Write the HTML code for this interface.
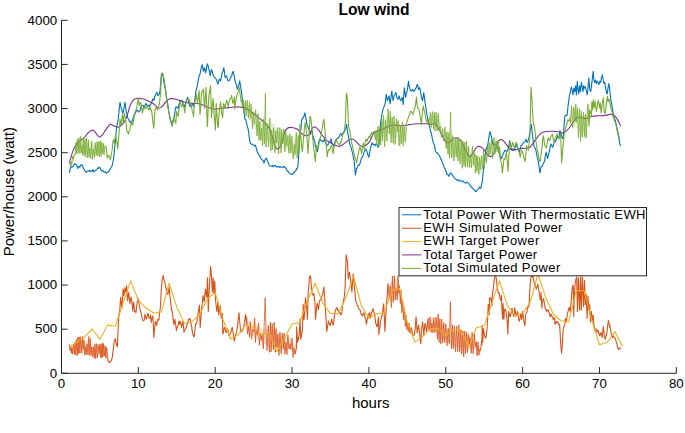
<!DOCTYPE html>
<html><head><meta charset="utf-8"><style>
html,body{margin:0;padding:0;background:#fff;width:685px;height:433px;overflow:hidden}
svg{display:block}
text{font-family:"Liberation Sans",sans-serif;fill:#000}
</style></head><body>
<svg width="685" height="433" viewBox="0 0 685 433">
<rect width="685" height="433" fill="#fff"/>
<path d="M69.30,173.00 L69.85,170.59 L70.40,168.40 L70.90,166.20 L71.90,167.20 L72.45,166.84 L73.00,166.20 L73.75,165.92 L74.50,163.60 L75.05,164.02 L75.60,164.60 L76.60,165.10 L77.15,166.77 L77.70,168.40 L78.70,166.20 L79.70,167.20 L80.25,166.36 L80.80,165.10 L81.80,164.60 L82.60,165.74 L83.40,168.40 L84.10,169.43 L84.80,170.71 L85.50,171.40 L86.25,172.35 L87.00,171.90 L87.84,170.73 L88.68,171.03 L89.52,170.32 L90.36,171.84 L91.20,170.90 L92.02,171.24 L92.84,169.56 L93.66,171.70 L94.48,171.54 L95.30,170.30 L96.08,170.19 L96.85,169.63 L97.62,168.05 L98.40,168.40 L99.20,166.94 L100.00,167.80 L100.80,169.52 L101.60,171.10 L102.40,170.41 L103.20,171.09 L104.00,172.20 L104.67,171.91 L105.33,171.74 L106.00,173.20 L106.70,172.68 L107.40,172.19 L108.10,171.90 L108.90,171.56 L109.70,169.61 L110.50,168.40 L111.35,167.29 L112.20,165.50 L112.85,162.25 L113.50,159.00 L114.05,154.54 L114.60,149.30 L115.40,141.20 L116.20,131.50 L117.00,125.00 L117.55,122.30 L118.10,119.80 L119.05,110.57 L120.00,102.40 L120.80,106.64 L121.60,108.50 L122.25,112.09 L122.90,113.30 L123.57,110.48 L124.23,106.53 L124.90,102.40 L125.55,106.61 L126.20,111.70 L127.00,114.30 L127.80,118.20 L128.60,119.29 L129.40,121.40 L130.20,121.17 L131.00,123.00 L131.80,122.04 L132.60,119.80 L133.40,117.16 L134.20,115.00 L135.05,114.18 L135.90,111.70 L136.70,110.63 L137.50,110.10 L138.30,112.00 L139.10,111.70 L139.90,110.93 L140.70,108.50 L141.50,105.70 L142.30,105.30 L143.15,105.40 L144.00,106.90 L144.80,106.23 L145.60,103.60 L146.40,104.09 L147.20,105.89 L148.00,105.30 L148.80,105.85 L149.60,106.90 L150.30,104.24 L151.00,103.94 L151.70,102.00 L152.25,101.07 L152.80,98.80 L153.40,99.05 L154.00,100.40 L154.65,97.01 L155.30,95.60 L156.10,93.55 L156.90,92.30 L157.70,95.06 L158.50,95.60 L159.30,93.77 L160.10,90.70 L160.75,81.68 L161.40,74.50 L161.95,73.49 L162.50,73.70 L163.35,77.99 L164.20,84.20 L165.00,87.19 L165.80,92.30 L166.60,97.86 L167.40,102.00 L168.20,106.88 L169.00,113.30 L169.80,117.49 L170.60,121.40 L171.40,122.92 L172.20,124.70 L173.05,120.71 L173.90,118.20 L174.70,113.91 L175.50,108.50 L176.05,106.71 L176.60,106.70 L177.40,107.84 L178.20,108.30 L179.00,104.18 L179.80,101.90 L180.65,100.91 L181.50,100.30 L182.30,101.21 L183.10,103.50 L183.90,104.55 L184.70,106.70 L185.50,104.63 L186.30,100.30 L186.95,99.58 L187.60,97.40 L188.15,99.18 L188.70,101.90 L189.55,105.22 L190.40,106.70 L191.20,104.41 L192.00,103.50 L192.80,104.85 L193.60,106.70 L194.40,102.70 L195.20,97.00 L196.00,90.60 L196.80,87.69 L197.60,84.10 L198.40,79.09 L199.20,76.00 L200.05,73.92 L200.90,69.50 L201.55,66.41 L202.20,64.70 L202.75,67.37 L203.30,71.20 L203.85,70.20 L204.40,67.90 L205.05,69.94 L205.70,72.80 L206.50,67.86 L207.30,63.90 L208.10,65.68 L208.90,69.50 L209.55,71.77 L210.20,76.00 L210.80,72.95 L211.40,69.50 L212.20,71.33 L213.00,74.40 L213.80,76.24 L214.60,77.60 L215.40,78.09 L216.20,79.20 L217.00,81.54 L217.80,84.10 L218.40,82.75 L219.00,79.20 L219.80,80.01 L220.60,80.90 L221.40,77.03 L222.20,72.80 L223.00,71.23 L223.80,67.90 L224.45,71.99 L225.10,77.60 L225.90,75.97 L226.70,76.00 L227.50,79.43 L228.30,80.90 L229.15,80.81 L230.00,79.20 L230.80,77.00 L231.60,76.00 L232.40,72.86 L233.20,71.20 L233.85,74.97 L234.50,77.60 L235.05,81.11 L235.60,82.50 L236.40,85.02 L237.20,89.00 L237.80,88.43 L238.40,85.70 L239.05,84.22 L239.70,80.90 L240.50,86.00 L241.30,90.60 L242.10,96.86 L242.90,103.50 L243.85,110.35 L244.80,119.10 L245.65,119.59 L246.50,122.30 L247.30,126.66 L248.10,128.80 L248.65,132.27 L249.20,137.00 L250.20,143.30 L251.10,144.14 L252.00,144.00 L252.75,144.17 L253.50,145.50 L254.45,146.03 L255.40,145.00 L256.20,148.00 L256.95,150.73 L257.70,153.00 L258.35,153.50 L259.00,155.00 L259.75,155.47 L260.50,157.50 L261.40,159.28 L262.30,160.00 L263.15,160.47 L264.00,163.00 L265.00,160.00 L265.70,158.50 L266.40,158.30 L267.20,160.29 L268.00,162.00 L268.90,164.75 L269.80,165.80 L270.65,166.17 L271.50,166.00 L272.30,165.41 L273.10,166.87 L273.90,165.80 L274.60,165.49 L275.30,165.44 L276.00,167.00 L276.93,166.57 L277.85,167.12 L278.77,166.32 L279.70,167.50 L280.47,166.66 L281.23,167.05 L282.00,167.30 L282.77,167.37 L283.53,166.22 L284.30,167.00 L285.15,167.42 L286.00,168.50 L286.67,170.27 L287.33,171.32 L288.00,171.00 L288.87,172.34 L289.73,173.39 L290.60,173.90 L291.50,174.40 L292.40,174.50 L293.20,172.89 L294.00,173.00 L294.90,170.88 L295.80,171.00 L296.40,168.84 L297.00,169.00 L297.55,167.78 L298.10,164.60 L298.70,155.00 L299.30,141.50 L299.90,137.23 L300.50,132.00 L301.05,127.61 L301.60,121.00 L302.40,118.25 L303.20,117.80 L304.05,115.68 L304.90,112.90 L305.50,116.11 L306.10,119.40 L306.70,123.20 L307.30,125.90 L308.10,127.07 L308.90,129.10 L309.70,132.75 L310.50,134.00 L311.30,131.33 L312.10,130.70 L312.70,134.06 L313.30,137.20 L313.95,139.37 L314.60,140.40 L315.40,145.41 L316.20,148.50 L316.85,150.72 L317.50,151.80 L318.05,147.39 L318.60,142.00 L319.15,141.10 L319.70,138.80 L320.50,140.60 L321.30,140.40 L322.15,140.84 L323.00,142.00 L323.80,140.84 L324.60,138.80 L325.40,142.21 L326.20,143.70 L327.00,145.39 L327.80,145.30 L328.60,143.45 L329.40,142.00 L330.25,141.10 L331.10,138.80 L331.70,142.12 L332.30,143.70 L333.15,145.47 L334.00,146.90 L334.80,143.95 L335.60,140.40 L336.40,139.32 L337.20,138.80 L338.00,138.20 L338.80,137.20 L339.60,135.86 L340.40,134.00 L341.20,133.79 L342.00,135.60 L342.85,134.28 L343.70,132.30 L344.50,131.88 L345.30,129.10 L345.95,127.61 L346.60,124.30 L347.15,128.85 L347.70,132.30 L348.50,136.88 L349.30,142.00 L350.10,145.01 L350.90,146.90 L351.75,150.34 L352.60,153.40 L353.40,157.31 L354.20,161.50 L355.00,170.00 L355.50,175.00 L356.40,168.50 L356.95,168.51 L357.50,166.90 L358.35,165.10 L359.20,165.30 L360.00,163.45 L360.80,160.40 L361.60,157.67 L362.40,157.20 L363.20,154.99 L364.00,152.30 L364.80,150.65 L365.60,149.10 L366.40,150.05 L367.20,152.30 L368.05,155.23 L368.90,157.20 L369.70,152.34 L370.50,147.50 L371.30,145.32 L372.10,142.60 L372.90,144.41 L373.70,144.20 L374.35,144.46 L375.00,145.90 L375.75,143.88 L376.50,144.20 L377.30,145.37 L378.10,147.50 L378.90,143.88 L379.70,139.40 L380.50,123.30 L381.30,117.74 L382.10,113.60 L382.90,109.61 L383.70,107.20 L384.55,105.72 L385.40,102.30 L386.20,94.20 L386.85,97.83 L387.50,100.70 L388.30,98.16 L389.10,95.90 L389.65,100.84 L390.20,103.90 L391.00,97.03 L391.80,91.00 L392.45,96.25 L393.10,100.70 L393.65,97.58 L394.20,95.90 L395.05,94.08 L395.90,92.60 L396.70,96.58 L397.50,99.10 L398.30,98.49 L399.10,95.90 L399.90,99.21 L400.70,100.70 L401.50,98.82 L402.30,97.50 L403.10,104.80 L403.70,96.50 L404.30,87.80 L404.95,92.21 L405.60,97.50 L406.40,93.38 L407.20,91.00 L407.85,86.14 L408.50,81.30 L409.05,85.36 L409.60,87.80 L410.40,90.24 L411.20,91.00 L412.00,90.71 L412.80,89.40 L413.65,91.28 L414.50,91.00 L415.30,88.86 L416.10,87.80 L416.75,85.36 L417.40,84.50 L417.95,86.83 L418.50,89.40 L419.15,88.06 L419.80,87.80 L420.60,91.96 L421.40,97.50 L421.95,98.89 L422.50,100.70 L423.15,96.95 L423.80,92.60 L424.40,97.44 L425.00,102.30 L425.65,105.91 L426.30,110.40 L426.85,114.46 L427.40,116.90 L427.95,121.26 L428.50,123.30 L429.20,125.85 L429.90,127.61 L430.60,131.30 L431.40,133.43 L432.20,137.80 L433.05,141.89 L433.90,144.20 L434.70,146.75 L435.50,151.50 L436.45,152.70 L437.40,152.90 L438.20,154.17 L439.00,154.64 L439.80,156.20 L440.63,159.03 L441.47,159.31 L442.30,162.60 L443.10,163.78 L443.90,166.70 L444.70,168.46 L445.50,169.29 L446.30,172.30 L447.10,174.46 L447.90,174.40 L448.70,176.40 L449.53,174.44 L450.37,173.11 L451.20,173.10 L452.00,174.66 L452.80,175.60 L453.60,176.54 L454.40,178.05 L455.20,178.80 L456.00,179.44 L456.80,180.07 L457.60,179.60 L458.43,181.10 L459.25,180.84 L460.07,180.08 L460.90,181.20 L461.70,181.44 L462.50,181.03 L463.30,180.93 L464.10,182.40 L464.90,182.47 L465.70,183.18 L466.50,182.80 L467.30,182.03 L468.10,182.80 L468.95,183.50 L469.80,185.30 L470.60,185.73 L471.40,187.37 L472.20,187.70 L473.00,188.55 L473.80,189.57 L474.60,190.10 L475.40,191.36 L476.20,191.40 L477.00,190.09 L477.80,189.30 L478.65,188.80 L479.50,186.90 L480.30,188.27 L481.10,187.70 L481.65,183.86 L482.20,182.00 L483.20,172.30 L483.75,167.69 L484.30,161.00 L484.85,157.48 L485.40,152.90 L486.05,149.21 L486.70,147.30 L487.50,146.90 L488.35,141.14 L489.20,135.60 L490.00,131.50 L490.80,134.65 L491.60,137.20 L492.40,142.23 L493.20,145.30 L494.00,144.15 L494.80,143.60 L495.60,144.62 L496.40,145.30 L497.20,147.81 L498.00,148.50 L498.85,150.81 L499.70,151.70 L500.00,155.30 L500.80,157.97 L501.60,158.50 L502.40,155.96 L503.20,153.60 L504.00,152.36 L504.80,150.40 L505.65,150.49 L506.50,152.00 L507.30,150.93 L508.10,148.80 L508.90,145.51 L509.70,140.70 L510.50,144.29 L511.30,147.20 L512.10,149.32 L512.90,150.40 L513.70,148.91 L514.50,148.80 L515.35,147.31 L516.20,143.90 L517.00,146.70 L517.80,147.20 L518.60,150.75 L519.40,152.00 L520.20,148.89 L521.00,145.60 L521.80,145.45 L522.60,143.90 L523.40,142.67 L524.20,142.30 L525.05,141.68 L525.90,139.10 L526.70,141.55 L527.50,142.30 L528.30,139.54 L529.10,137.50 L529.75,132.45 L530.40,129.40 L530.95,126.81 L531.50,124.50 L532.30,134.20 L533.10,140.02 L533.90,145.60 L534.75,147.84 L535.60,148.80 L536.40,152.82 L537.20,156.90 L538.00,159.82 L538.80,165.00 L539.45,169.74 L540.10,173.00 L540.65,168.75 L541.20,166.60 L542.00,166.52 L542.80,165.00 L543.65,162.56 L544.50,161.70 L545.30,156.45 L546.10,152.00 L546.90,155.94 L547.70,158.50 L548.50,154.39 L549.30,152.00 L550.10,147.11 L550.90,143.90 L551.70,145.59 L552.50,147.20 L553.35,145.29 L554.20,142.30 L555.00,142.32 L555.80,140.70 L556.60,138.75 L557.40,135.90 L558.20,137.77 L559.00,137.50 L560.00,130.70 L560.80,133.13 L561.60,135.60 L562.40,138.28 L563.20,138.80 L564.00,126.61 L564.80,116.40 L565.60,115.26 L566.40,115.53 L567.20,115.00 L567.80,108.55 L568.40,103.10 L568.95,99.60 L569.50,95.00 L570.30,92.70 L571.20,87.00 L572.20,90.40 L573.00,95.00 L573.80,88.10 L574.70,91.60 L575.60,85.80 L576.40,95.00 L577.30,81.20 L577.90,88.10 L578.80,93.90 L579.60,85.80 L580.50,91.60 L581.40,82.30 L582.20,87.00 L583.00,91.60 L583.70,85.80 L584.50,88.10 L585.30,87.00 L586.30,90.40 L587.20,95.00 L588.00,88.10 L588.80,77.70 L589.70,89.30 L590.70,91.60 L591.50,85.80 L592.30,78.90 L593.20,71.40 L593.80,78.90 L594.60,82.30 L595.50,80.00 L596.40,83.50 L597.20,81.20 L598.00,82.30 L599.00,84.60 L599.90,81.20 L600.70,82.30 L601.50,77.70 L602.40,74.80 L603.10,80.00 L603.80,83.50 L604.70,82.30 L605.70,88.10 L606.50,92.70 L607.30,93.90 L608.00,88.10 L608.80,83.50 L609.40,87.00 L610.30,95.00 L611.10,100.80 L611.90,105.40 L612.80,111.20 L613.40,115.00 L614.20,117.53 L615.00,119.40 L615.80,122.70 L616.60,125.90 L617.40,130.72 L618.20,133.90 L619.00,138.89 L619.80,143.60 L620.60,146.10" fill="none" stroke="#0072BD" stroke-width="1.1" stroke-linejoin="round"/>
<path d="M69.30,344.58 L69.79,345.50 L70.29,346.41 L70.78,347.33 L71.28,347.39 L71.77,347.20 L72.27,347.00 L72.76,346.81 L73.26,346.62 L73.75,346.04 L74.25,345.43 L74.74,344.82 L75.24,344.21 L75.73,343.56 L76.23,342.38 L76.72,341.20 L77.22,340.02 L77.71,339.46 L78.21,339.26 L78.70,339.08 L79.19,338.90 L79.69,338.71 L80.18,338.73 L80.68,338.81 L81.17,338.89 L81.67,339.04 L82.16,339.26 L82.66,339.84 L83.15,340.45 L83.65,341.05 L84.14,341.66 L84.64,342.21 L85.13,341.91 L85.63,341.55 L86.12,341.12 L86.62,340.69 L87.11,340.27 L87.61,340.23 L88.10,340.18 L88.59,340.13 L89.09,340.18 L89.58,340.42 L90.08,341.42 L90.57,342.42 L91.07,343.43 L91.56,344.43 L92.06,345.22 L92.55,345.56 L93.05,345.87 L93.54,346.16 L94.04,346.45 L94.53,346.55 L95.03,346.45 L95.52,346.35 L96.02,346.24 L96.51,346.09 L97.01,346.04 L97.50,346.12 L97.99,346.20 L98.49,346.28 L98.98,346.36 L99.48,346.44 L99.97,346.52 L100.47,346.43 L100.96,346.33 L101.46,346.23 L101.95,346.13 L102.45,346.03 L102.94,345.93 L103.44,346.08 L103.93,346.49 L104.43,346.90 L104.92,347.31 L105.42,347.73 L105.91,348.19 L106.41,348.67 L106.90,349.16 L106.90,355.94 L106.41,355.82 L105.91,355.70 L105.42,355.58 L104.92,355.48 L104.43,355.38 L103.93,355.27 L103.44,355.17 L102.94,355.13 L102.45,355.16 L101.95,355.18 L101.46,355.21 L100.96,355.23 L100.47,355.26 L99.97,355.28 L99.48,355.34 L98.98,355.39 L98.49,355.44 L97.99,355.49 L97.50,355.55 L97.01,355.60 L96.51,355.68 L96.02,355.79 L95.52,355.77 L95.03,355.70 L94.53,355.63 L94.04,355.51 L93.54,355.35 L93.05,355.18 L92.55,354.95 L92.06,354.57 L91.56,354.08 L91.07,353.53 L90.57,352.98 L90.08,352.43 L89.58,351.89 L89.09,351.53 L88.59,351.32 L88.10,351.51 L87.61,351.70 L87.11,351.90 L86.62,352.18 L86.12,352.47 L85.63,352.76 L85.13,352.76 L84.64,352.53 L84.14,352.09 L83.65,351.63 L83.15,351.17 L82.66,350.71 L82.16,350.26 L81.67,349.90 L81.17,349.79 L80.68,349.97 L80.18,350.14 L79.69,350.33 L79.19,350.58 L78.70,350.82 L78.21,351.06 L77.71,351.35 L77.22,351.73 L76.72,352.26 L76.23,352.79 L75.73,353.33 L75.24,353.27 L74.74,353.18 L74.25,353.08 L73.75,352.99 L73.26,352.88 L72.76,352.67 L72.27,352.45 L71.77,352.24 L71.28,352.02 L70.78,351.55 L70.29,350.20 L69.79,348.86 L69.30,347.52Z" fill="#D95319" fill-opacity="0.2" stroke="none"/>
<path d="M69.30,343.79 L70.12,350.91 L70.81,346.00 L71.35,353.29 L71.92,347.91 L72.50,354.23 L73.45,345.00 L74.41,354.28 L75.07,341.74 L75.73,355.31 L76.52,339.47 L77.29,355.46 L77.91,337.04 L78.57,353.70 L79.23,336.84 L79.87,353.05 L80.79,336.75 L81.75,353.39 L82.62,336.49 L83.16,349.22 L83.94,339.76 L84.78,355.09 L85.51,346.42 L86.25,354.98 L87.09,343.75 L87.99,354.83 L88.81,336.45 L89.41,355.35 L90.28,338.51 L90.98,355.41 L91.71,346.94 L92.60,356.83 L93.32,347.01 L94.27,358.38 L94.90,343.84 L95.69,358.55 L96.41,343.63 L97.36,357.67 L98.16,344.39 L99.09,353.19 L99.98,344.28 L100.55,357.30 L101.10,343.70 L101.78,358.12 L102.37,343.19 L102.91,356.91 L103.50,343.57 L104.19,356.26 L105.16,345.59 L105.73,358.07 L106.37,347.44" fill="none" stroke="#D95319" stroke-width="0.8" stroke-linejoin="round"/>
<path d="M106.37,347.44 L106.90,350.00 L107.30,356.60 L107.70,358.48 L108.10,360.60 L108.63,361.29 L109.17,362.77 L109.70,362.20 L110.23,361.58 L110.77,361.15 L111.30,360.60 L111.85,358.83 L112.40,356.60 L112.90,351.73 L113.40,348.50 L114.10,342.00 L114.70,340.43 L115.30,338.80 L115.80,341.49 L116.30,343.50 L116.85,345.86 L117.40,346.70 L117.80,335.94 L118.20,327.30 L118.60,319.79 L119.00,313.30 L119.50,314.40 L120.10,304.74 L120.70,297.20 L121.25,303.66 L121.80,308.50 L122.45,299.30 L123.10,289.10 L123.50,291.16 L123.90,295.60 L124.45,292.80 L125.00,287.50 L125.50,291.11 L126.00,292.30 L126.60,285.90 L127.10,293.55 L127.60,300.40 L128.15,296.65 L128.70,292.30 L129.30,297.06 L129.90,303.60 L130.55,299.14 L131.20,297.20 L131.85,302.12 L132.50,306.90 L132.80,311.20 L133.20,305.45 L133.60,302.00 L134.15,306.04 L134.70,311.70 L135.35,311.58 L136.00,312.80 L136.65,306.18 L137.30,302.00 L137.85,300.31 L138.40,298.80 L139.00,302.70 L139.60,306.90 L140.25,310.19 L140.90,311.70 L141.30,313.90 L141.70,316.00 L142.20,318.20 L142.75,319.91 L143.30,320.90 L143.85,320.35 L144.40,319.80 L144.90,314.40 L145.43,316.42 L145.97,317.49 L146.50,319.20 L147.00,316.60 L147.55,314.37 L148.10,313.30 L148.70,317.04 L149.30,318.20 L149.95,317.89 L150.60,315.00 L151.00,319.63 L151.40,322.50 L151.90,318.20 L152.45,317.64 L153.00,316.00 L153.40,326.42 L153.80,337.80 L154.45,330.25 L155.10,324.10 L155.40,321.40 L156.05,323.00 L156.70,325.70 L157.25,321.33 L157.80,319.20 L158.40,320.19 L159.00,319.80 L159.50,312.80 L159.90,310.39 L160.30,308.50 L160.70,301.30 L161.10,292.30 L161.65,285.55 L162.20,279.40 L162.70,278.59 L163.20,275.40 L163.75,279.10 L164.30,281.00 L164.85,282.15 L165.40,285.90 L166.05,288.35 L166.70,292.30 L167.35,294.22 L168.00,294.00 L168.60,290.67 L169.20,287.50 L169.75,294.40 L170.30,298.80 L170.80,304.70 L171.20,307.13 L171.60,310.10 L172.00,310.34 L172.40,312.80 L172.90,318.20 L173.45,321.79 L174.00,324.70 L174.40,322.67 L174.80,319.20 L175.33,322.40 L175.87,325.73 L176.40,330.60 L177.05,328.01 L177.70,326.30 L178.30,325.06 L178.90,321.40 L179.30,323.42 L179.70,324.10 L180.00,321.00 L180.53,322.17 L181.07,324.67 L181.60,327.50 L182.13,324.43 L182.67,322.29 L183.20,321.40 L183.60,327.62 L184.00,332.30 L184.62,330.06 L185.25,329.65 L185.88,327.96 L186.50,326.70 L187.03,324.13 L187.57,323.77 L188.10,321.40 L188.63,319.37 L189.17,319.64 L189.70,318.20 L190.23,319.37 L190.77,322.33 L191.30,324.70 L191.95,328.60 L192.60,334.00 L193.13,334.20 L193.67,336.82 L194.20,336.40 L194.80,331.49 L195.40,325.00 L195.93,323.29 L196.47,323.60 L197.00,321.40 L197.55,316.60 L198.10,313.30 L198.75,309.03 L199.40,305.30 L199.80,317.32 L200.20,327.50 L200.73,321.00 L201.27,312.73 L201.80,306.90 L202.40,302.52 L203.00,295.60 L203.60,298.05 L204.20,302.00 L204.85,294.92 L205.50,289.10 L206.10,293.86 L206.70,297.20 L207.10,287.06 L207.50,277.80 L207.90,294.22 L208.30,311.70 L208.85,297.69 L209.40,285.90 L210.05,275.13 L210.70,266.50 L211.10,271.57 L211.50,276.20 L211.90,283.58 L212.30,292.30 L212.70,285.31 L213.10,277.80 L213.50,285.57 L213.90,294.00 L214.35,287.38 L214.80,281.00 L215.20,291.89 L215.60,300.40 L216.25,306.01 L216.90,311.70 L217.45,307.04 L218.00,302.00 L218.40,309.45 L218.80,315.00 L219.45,309.33 L220.10,305.30 L220.65,310.85 L221.20,318.20 L221.80,316.81 L222.40,313.30 L222.80,334.00 L223.37,332.66 L223.93,329.02 L224.50,327.50 L225.03,328.29 L225.57,331.32 L226.10,332.30 L226.63,332.38 L227.17,329.38 L227.70,329.10 L228.23,332.44 L228.77,334.43 L229.30,335.60 L229.83,334.77 L230.37,333.20 L230.90,332.30 L231.43,329.67 L231.97,327.90 L232.50,327.50 L233.07,333.27 L233.63,335.95 L234.20,341.20 L234.73,339.30 L235.27,335.70 L235.80,333.90 L236.33,332.61 L236.87,329.88 L237.40,327.50 L237.93,322.10 L238.47,316.92 L239.00,312.90 L239.53,319.94 L240.07,324.71 L240.60,332.30 L241.13,331.06 L241.67,331.39 L242.20,330.70 L242.77,330.02 L243.33,327.80 L243.90,325.90 L244.43,321.53 L244.97,319.39 L245.50,314.50 L246.05,318.98 L246.60,325.00" fill="none" stroke="#D95319" stroke-width="1.1" stroke-linejoin="round"/>
<path d="M246.60,318.40 L247.10,318.81 L247.60,319.22 L248.09,319.63 L248.59,320.49 L249.09,321.46 L249.59,322.43 L250.09,323.40 L250.58,324.37 L251.08,324.09 L251.58,323.43 L252.08,322.72 L252.58,322.01 L253.07,321.31 L253.57,320.60 L254.07,320.44 L254.57,321.34 L255.07,322.26 L255.56,323.18 L256.06,324.10 L256.56,325.02 L257.06,325.94 L257.56,326.21 L258.05,326.41 L258.55,326.60 L259.05,326.79 L259.55,326.97 L260.05,327.16 L260.54,327.38 L261.04,327.70 L261.54,328.15 L262.04,328.66 L262.54,329.17 L263.03,329.38 L263.53,329.24 L264.03,329.11 L264.53,328.98 L265.03,328.85 L265.52,328.71 L266.02,328.59 L266.52,328.73 L267.02,328.87 L267.52,329.01 L268.01,328.76 L268.51,328.44 L269.01,328.12 L269.51,327.80 L270.01,327.48 L270.50,326.87 L271.00,326.35 L271.50,326.44 L272.00,326.54 L272.49,326.63 L272.99,326.72 L273.49,326.89 L273.99,327.18 L274.49,327.47 L274.98,328.63 L275.48,329.81 L275.98,330.98 L276.48,332.16 L276.98,333.59 L277.47,335.02 L277.97,336.45 L278.47,336.70 L278.97,336.53 L279.47,336.37 L279.96,336.20 L280.46,336.04 L280.96,336.05 L281.46,336.14 L281.96,336.22 L282.45,336.24 L282.95,336.25 L283.45,336.27 L283.95,336.28 L284.45,336.31 L284.94,336.34 L285.44,336.59 L285.94,336.87 L286.44,337.05 L286.94,337.12 L287.43,337.20 L287.93,337.27 L288.43,337.34 L288.93,337.53 L289.43,337.78 L289.92,338.03 L290.42,338.28 L290.92,338.53 L291.42,339.61 L291.92,340.87 L292.41,342.26 L292.91,343.65 L293.41,345.05 L293.91,344.78 L294.41,344.15 L294.90,343.52 L295.40,342.89 L295.90,342.26 L295.90,352.04 L295.40,352.70 L294.90,353.35 L294.41,354.01 L293.91,354.66 L293.41,355.00 L292.91,353.91 L292.41,352.81 L291.92,351.72 L291.42,351.19 L290.92,350.73 L290.42,350.47 L289.92,350.22 L289.43,349.96 L288.93,349.71 L288.43,349.71 L287.93,350.21 L287.43,350.70 L286.94,351.20 L286.44,351.69 L285.94,351.76 L285.44,351.44 L284.94,351.13 L284.45,350.88 L283.95,350.62 L283.45,350.40 L282.95,350.20 L282.45,350.00 L281.96,349.80 L281.46,349.58 L280.96,349.36 L280.46,349.41 L279.96,350.18 L279.47,350.96 L278.97,351.73 L278.47,352.50 L277.97,352.70 L277.47,351.19 L276.98,349.69 L276.48,348.23 L275.98,347.75 L275.48,347.27 L274.98,346.79 L274.49,346.31 L273.99,346.05 L273.49,345.79 L272.99,346.03 L272.49,346.58 L272.00,347.13 L271.50,347.68 L271.00,348.23 L270.50,348.93 L270.01,349.40 L269.51,348.75 L269.01,348.09 L268.51,347.43 L268.01,346.77 L267.52,346.10 L267.02,345.32 L266.52,344.55 L266.02,343.78 L265.52,344.05 L265.03,344.36 L264.53,344.67 L264.03,344.99 L263.53,345.30 L263.03,345.61 L262.54,345.17 L262.04,344.06 L261.54,342.96 L261.04,342.10 L260.54,341.77 L260.05,341.46 L259.55,341.17 L259.05,340.87 L258.55,340.58 L258.05,340.28 L257.56,339.93 L257.06,339.53 L256.56,338.98 L256.06,338.42 L255.56,337.86 L255.07,337.30 L254.57,336.77 L254.07,336.30 L253.57,336.09 L253.07,336.03 L252.58,335.96 L252.08,335.89 L251.58,335.82 L251.08,335.60 L250.58,335.25 L250.09,334.59 L249.59,333.92 L249.09,333.26 L248.59,332.60 L248.09,331.95 L247.60,331.33 L247.10,330.72 L246.60,330.10Z" fill="#D95319" fill-opacity="0.2" stroke="none"/>
<path d="M246.60,325.00 L246.60,316.73 L247.39,334.04 L248.40,326.47 L249.52,337.20 L250.32,321.89 L251.49,339.24 L252.68,329.25 L253.86,331.94 L254.70,318.05 L255.41,342.56 L256.27,329.14 L257.24,335.24 L258.51,322.95 L259.35,345.32 L260.42,334.02 L261.41,340.10 L262.16,333.56 L263.33,348.87 L264.14,326.30 L265.20,297.80 L266.26,336.37 L267.06,350.56 L268.30,325.38 L269.50,352.43 L270.41,322.06 L271.12,351.97 L272.13,323.57 L273.36,349.53 L274.21,322.13 L275.26,352.24 L276.04,328.60 L277.01,347.58 L277.97,334.00 L278.98,355.49 L279.95,332.05 L281.13,353.51 L282.26,333.20 L283.27,348.60 L284.04,333.11 L284.90,354.21 L285.94,342.43 L286.91,354.55 L287.91,334.75 L288.93,348.72 L290.05,343.59 L290.91,349.20 L292.11,338.14 L293.08,357.54 L293.82,347.98 L295.06,354.04" fill="none" stroke="#D95319" stroke-width="0.8" stroke-linejoin="round"/>
<path d="M295.06,354.04 L295.90,350.00 L296.40,348.80 L296.70,326.90 L297.10,334.48 L297.50,342.30 L298.07,339.76 L298.63,338.00 L299.20,334.20 L299.60,326.41 L300.00,318.80 L300.40,328.97 L300.80,339.10 L301.33,336.63 L301.87,332.88 L302.40,331.00 L302.80,317.63 L303.20,304.20 L303.60,312.29 L304.00,319.70 L304.53,313.16 L305.07,304.04 L305.60,297.80 L306.10,302.39 L306.60,308.00 L307.00,312.54 L307.40,319.20 L307.80,307.16 L308.20,293.50 L308.85,285.50 L309.50,276.50 L310.10,275.71 L310.70,277.30 L311.25,285.05 L311.80,290.30 L312.30,293.91 L312.80,295.10 L313.35,294.70 L313.90,293.50 L314.45,298.65 L315.00,303.20 L315.50,319.20 L316.00,314.50 L316.55,307.96 L317.10,303.20 L317.70,305.19 L318.30,309.70 L318.90,305.72 L319.50,301.60 L320.07,299.92 L320.63,299.73 L321.20,300.00 L321.73,297.16 L322.27,294.44 L322.80,293.50 L323.35,290.16 L323.90,287.00 L324.30,292.50 L324.70,298.30 L325.20,306.49 L325.70,312.90 L326.25,322.20 L326.80,331.40 L327.33,328.26 L327.87,324.40 L328.40,320.90 L328.97,322.92 L329.53,323.99 L330.10,325.70 L330.63,322.96 L331.17,322.66 L331.70,319.20 L332.23,322.39 L332.77,323.88 L333.30,324.90 L333.83,321.41 L334.37,316.35 L334.90,312.80 L335.43,310.50 L335.97,309.05 L336.50,308.00 L337.10,307.71 L337.70,310.34 L338.30,310.22 L338.90,311.30 L339.52,313.00 L340.15,312.60 L340.77,314.89 L341.40,314.50 L341.93,311.64 L342.47,305.67 L343.00,303.20 L343.55,300.00 L344.10,298.30 L344.60,293.72 L345.10,287.00 L345.65,270.77 L346.20,254.70 L346.80,259.20 L347.40,261.20 L347.85,269.83 L348.30,279.00 L348.90,274.64 L349.50,272.50 L350.05,276.09 L350.60,279.00 L351.25,286.17 L351.90,291.90 L352.55,282.40 L353.20,274.10 L353.75,278.68 L354.30,285.40 L354.85,291.41 L355.40,298.30 L356.05,301.86 L356.70,303.00 L357.23,305.34 L357.77,305.34 L358.30,308.00 L358.75,308.09 L359.20,309.50 L359.73,309.56 L360.27,310.56 L360.80,312.80 L361.33,314.64 L361.87,314.10 L362.40,316.00 L362.80,315.40 L363.20,314.50 L363.60,313.51 L364.00,312.80 L364.53,314.13 L365.07,317.67 L365.60,319.20 L366.00,320.69 L366.40,324.10 L366.93,321.77 L367.47,317.70 L368.00,316.00 L368.57,314.73 L369.13,313.12 L369.70,312.80 L370.00,318.50 L370.53,315.73 L371.07,315.39 L371.60,312.00 L372.13,311.72 L372.67,309.36 L373.20,308.80 L373.85,312.20 L374.50,313.60 L375.10,317.70 L375.70,323.30 L376.23,324.13 L376.77,326.42 L377.30,326.60 L377.85,322.12 L378.40,316.90 L378.90,334.80 L379.43,329.39 L379.97,327.34 L380.50,321.70 L381.03,318.82 L381.57,316.80 L382.10,315.30 L382.63,312.21 L383.17,307.26 L383.70,303.90 L384.30,317.12 L384.90,331.40 L385.55,318.99 L386.20,308.80 L386.60,302.88 L387.00,299.10 L387.40,292.87 L387.80,286.20" fill="none" stroke="#D95319" stroke-width="1.1" stroke-linejoin="round"/>
<path d="M388.00,284.00 L388.50,284.08 L388.99,283.79 L389.49,283.39 L389.98,282.93 L390.48,282.48 L390.97,282.02 L391.47,281.92 L391.97,281.68 L392.46,281.13 L392.96,280.58 L393.45,280.08 L393.95,279.94 L394.44,279.90 L394.94,279.96 L395.43,280.02 L395.93,280.06 L396.43,279.73 L396.92,279.41 L397.42,279.08 L397.91,278.74 L398.41,278.60 L398.90,279.11 L399.40,280.24 L399.40,296.56 L398.90,294.20 L398.41,294.32 L397.91,294.60 L397.42,294.94 L396.92,295.27 L396.43,295.59 L395.93,295.91 L395.43,296.14 L394.94,296.36 L394.44,296.58 L393.95,297.22 L393.45,298.26 L392.96,299.40 L392.46,300.54 L391.97,301.69 L391.47,301.57 L390.97,300.84 L390.48,300.20 L389.98,299.55 L389.49,298.91 L388.99,298.02 L388.50,297.06 L388.00,296.00Z" fill="#D95319" fill-opacity="0.2" stroke="none"/>
<path d="M387.80,286.20 L388.00,283.54 L389.28,299.41 L390.22,286.00 L391.42,307.52 L392.43,276.01 L393.32,302.56 L394.35,275.78 L395.25,300.01 L395.99,288.32 L397.27,300.05 L398.00,275.87 L398.77,293.44" fill="none" stroke="#D95319" stroke-width="0.8" stroke-linejoin="round"/>
<path d="M399.40,289.00 L399.89,290.64 L400.37,292.27 L400.86,293.91 L401.34,296.04 L401.83,298.36 L402.31,300.69 L402.80,303.02 L403.28,305.29 L403.77,307.53 L404.25,309.76 L404.74,311.99 L405.22,314.00 L405.71,315.75 L406.19,317.49 L406.68,319.24 L407.16,320.77 L407.65,321.89 L408.13,323.01 L408.62,324.12 L409.10,325.13 L409.59,325.77 L410.07,326.40 L410.56,327.03 L411.04,327.65 L411.53,328.24 L412.01,328.82 L412.50,329.40 L412.50,333.60 L412.01,333.21 L411.53,332.82 L411.04,332.44 L410.56,332.09 L410.07,331.75 L409.59,331.41 L409.10,331.07 L408.62,330.35 L408.13,329.53 L407.65,328.70 L407.16,327.88 L406.68,326.83 L406.19,325.66 L405.71,324.50 L405.22,323.33 L404.74,321.91 L404.25,320.26 L403.77,318.61 L403.28,316.96 L402.80,315.14 L402.31,313.11 L401.83,311.07 L401.34,309.03 L400.86,307.00 L400.37,305.00 L399.89,303.00 L399.40,301.00Z" fill="#D95319" fill-opacity="0.2" stroke="none"/>
<path d="M398.77,293.44 L399.40,285.62 L400.40,303.46 L401.00,290.17 L401.77,312.54 L402.63,300.12 L403.60,319.61 L404.38,307.61 L405.39,326.38 L406.20,315.19 L406.84,329.61 L407.55,322.14 L408.25,331.35 L408.97,322.95 L409.54,332.60 L410.19,327.52 L410.80,333.26 L411.60,327.56 L412.40,332.70" fill="none" stroke="#D95319" stroke-width="0.8" stroke-linejoin="round"/>
<path d="M412.40,332.70 L412.80,335.60 L413.37,335.18 L413.93,335.16 L414.50,334.70 L415.03,329.87 L415.57,322.74 L416.10,316.90 L416.65,324.97 L417.20,333.00 L417.85,329.23 L418.50,325.00 L419.03,328.48 L419.57,333.63 L420.10,337.90 L420.50,341.09 L420.90,343.60 L421.40,329.80 L421.95,326.51 L422.50,321.70 L423.15,327.14 L423.80,334.70 L424.40,328.49 L425.00,323.30 L425.53,324.94 L426.07,329.51 L426.60,331.40 L427.13,327.60 L427.67,321.61 L428.20,318.50" fill="none" stroke="#D95319" stroke-width="1.1" stroke-linejoin="round"/>
<path d="M428.20,321.00 L428.70,320.66 L429.19,320.33 L429.69,319.99 L430.19,319.66 L430.69,319.32 L431.18,318.99 L431.68,318.29 L432.18,317.32 L432.68,316.34 L433.17,317.84 L433.67,319.47 L434.17,321.15 L434.66,322.87 L435.16,322.04 L435.66,321.01 L436.16,319.98 L436.65,319.41 L437.15,319.04 L437.65,318.66 L438.14,318.28 L438.64,319.57 L439.14,321.08 L439.64,322.58 L440.13,323.18 L440.63,323.35 L441.13,323.51 L441.62,323.65 L442.12,323.73 L442.62,323.96 L443.12,324.28 L443.61,324.59 L444.11,324.91 L444.61,325.22 L445.11,325.89 L445.60,326.63 L446.10,327.38 L446.60,328.19 L447.09,329.04 L447.59,329.89 L448.09,330.56 L448.59,330.51 L449.08,330.46 L449.58,330.41 L450.08,330.36 L450.57,330.30 L451.07,330.25 L451.57,330.22 L452.07,330.18 L452.56,330.02 L453.06,329.86 L453.56,329.71 L454.06,329.55 L454.55,329.44 L455.05,329.42 L455.55,329.41 L456.04,329.40 L456.54,329.39 L457.04,329.37 L457.54,329.36 L458.03,329.64 L458.53,329.96 L459.03,330.27 L459.52,330.59 L460.02,330.91 L460.52,331.41 L461.02,331.98 L461.51,332.68 L462.01,333.38 L462.51,334.07 L463.01,334.51 L463.50,334.81 L464.00,334.90 L464.50,335.00 L464.99,335.04 L465.49,334.87 L465.99,334.80 L466.49,334.80 L466.98,334.80 L467.48,334.84 L467.98,334.95 L468.47,335.06 L468.97,335.17 L469.47,335.30 L469.97,335.44 L470.46,335.58 L470.96,335.33 L471.46,334.94 L471.96,334.56 L472.45,334.14 L472.95,333.70 L473.45,333.99 L473.94,334.36 L474.44,334.73 L474.94,336.74 L475.44,339.54 L475.93,342.49 L476.43,343.23 L476.93,343.63 L477.42,344.03 L477.92,344.43 L478.42,344.83 L478.92,345.23 L479.41,345.63 L479.91,345.23 L480.41,344.66 L480.91,344.10 L481.40,343.53 L481.90,342.96 L481.90,349.74 L481.40,351.02 L480.91,352.29 L480.41,353.57 L479.91,354.84 L479.41,355.79 L478.92,355.16 L478.42,354.54 L477.92,353.91 L477.42,353.29 L476.93,352.68 L476.43,352.07 L475.93,351.37 L475.44,350.12 L474.94,349.48 L474.44,349.08 L473.94,349.10 L473.45,349.11 L472.95,349.14 L472.45,349.36 L471.96,349.46 L471.46,349.46 L470.96,349.45 L470.46,349.41 L469.97,349.28 L469.47,349.14 L468.97,349.01 L468.47,348.96 L467.98,348.94 L467.48,348.91 L466.98,348.90 L466.49,348.90 L465.99,348.90 L465.49,349.18 L464.99,349.86 L464.50,350.49 L464.00,351.10 L463.50,351.72 L463.01,351.52 L462.51,350.78 L462.01,349.97 L461.51,349.16 L461.02,348.34 L460.52,348.05 L460.02,347.93 L459.52,347.85 L459.03,347.77 L458.53,347.69 L458.03,347.61 L457.54,347.53 L457.04,347.44 L456.54,347.35 L456.04,347.26 L455.55,347.17 L455.05,347.08 L454.55,346.99 L454.06,346.79 L453.56,346.55 L453.06,346.31 L452.56,346.07 L452.07,345.83 L451.57,345.56 L451.07,345.32 L450.57,345.15 L450.08,344.98 L449.58,344.81 L449.08,344.64 L448.59,344.48 L448.09,344.31 L447.59,343.78 L447.09,343.10 L446.60,342.43 L446.10,341.76 L445.60,341.10 L445.11,340.45 L444.61,339.91 L444.11,339.83 L443.61,339.75 L443.12,339.67 L442.62,339.59 L442.12,339.53 L441.62,339.51 L441.13,339.24 L440.63,338.88 L440.13,338.53 L439.64,338.06 L439.14,337.37 L438.64,336.67 L438.14,335.97 L437.65,335.12 L437.15,334.27 L436.65,333.42 L436.16,332.75 L435.66,332.49 L435.16,332.24 L434.66,331.93 L434.17,330.99 L433.67,330.23 L433.17,329.69 L432.68,329.18 L432.18,329.29 L431.68,329.40 L431.18,329.40 L430.69,329.25 L430.19,329.10 L429.69,328.95 L429.19,328.80 L428.70,328.65 L428.20,328.50Z" fill="#D95319" fill-opacity="0.2" stroke="none"/>
<path d="M428.20,318.50 L428.20,324.16 L429.28,331.12 L430.01,316.93 L431.16,332.42 L431.91,322.76 L433.01,333.03 L433.89,317.70 L434.86,332.39 L436.14,317.17 L437.42,339.24 L438.12,313.77 L439.12,342.26 L439.82,318.81 L440.76,344.07 L441.65,319.11 L442.66,342.93 L443.79,322.33 L444.69,342.49 L445.82,324.01 L447.02,345.69 L448.16,328.20 L449.18,343.32 L450.40,301.80 L451.60,349.02 L452.44,324.85 L453.35,348.41 L454.39,325.81 L455.50,351.68 L456.67,326.08 L457.69,351.69 L458.84,325.18 L459.70,351.60 L460.84,329.48 L461.77,353.82 L462.93,330.88 L463.68,356.66 L464.82,330.96 L465.53,353.75 L466.63,332.05 L467.51,352.44 L468.49,334.30 L469.31,344.28 L470.02,337.84 L471.30,353.22 L472.12,332.26 L473.17,353.88 L474.44,334.08 L475.45,347.00 L476.29,341.77 L477.00,355.80 L477.97,341.87 L478.88,355.17 L479.58,349.31 L480.35,350.83 L481.59,341.32" fill="none" stroke="#D95319" stroke-width="0.8" stroke-linejoin="round"/>
<path d="M481.59,341.32 L481.90,345.00 L482.20,325.30 L482.70,342.30 L483.10,335.28 L483.50,328.50 L483.90,331.51 L484.30,334.20 L484.83,336.64 L485.37,336.78 L485.90,338.20 L486.50,333.37 L487.10,328.50 L487.70,316.58 L488.30,304.20 L488.75,308.68 L489.20,314.80 L489.60,297.80 L490.20,297.78 L490.80,297.70 L491.35,302.14 L491.90,305.90 L492.50,293.10 L493.10,289.81 L493.70,285.00 L494.25,279.89 L494.80,276.90 L495.40,276.39 L496.00,276.90 L496.40,279.29 L496.80,283.80 L497.30,287.71 L497.80,290.50 L498.30,293.10 L498.85,292.46 L499.40,294.20 L500.00,298.35 L500.60,300.00 L501.05,298.91 L501.50,295.40 L501.70,304.60 L502.15,312.10 L502.60,318.80 L503.10,303.50 L503.50,311.75 L503.90,319.40 L504.40,310.00 L504.95,308.96 L505.50,309.70 L506.03,311.77 L506.57,316.44 L507.10,319.70 L507.50,325.70 L507.90,334.00 L508.30,321.99 L508.70,311.60 L509.10,313.23 L509.50,316.20 L509.95,315.08 L510.40,316.40 L510.93,313.57 L511.47,310.78 L512.00,308.20 L512.53,311.82 L513.07,313.72 L513.60,316.40 L514.00,315.01 L514.40,312.90 L514.70,307.50 L515.35,311.95 L516.00,316.40 L516.53,315.22 L517.07,313.09 L517.60,311.60 L518.13,314.26 L518.67,319.36 L519.20,321.30 L519.77,319.89 L520.33,316.78 L520.90,313.20 L521.30,316.84 L521.70,319.40 L522.10,315.02 L522.50,311.60 L523.03,314.66 L523.57,318.58 L524.10,322.90 L524.50,323.28 L524.90,325.90 L525.30,321.04 L525.70,314.80 L526.23,312.94 L526.77,312.50 L527.30,310.00 L527.70,307.95 L528.10,306.50 L528.55,306.99 L529.00,305.10 L529.40,298.75 L529.80,290.60 L530.35,282.80 L530.90,277.60 L531.40,276.05 L531.90,276.00 L532.45,277.07 L533.00,276.00 L533.53,278.62 L534.07,282.65 L534.60,284.10 L535.13,285.47 L535.67,286.26 L536.20,289.00 L536.73,287.70 L537.27,286.46 L537.80,284.10 L538.37,287.27 L538.93,290.56 L539.50,295.40 L539.90,297.26 L540.30,300.00 L540.70,297.31 L541.10,292.20 L541.50,300.82 L541.90,308.10 L542.20,303.50 L542.85,300.06 L543.50,298.60 L544.03,301.17 L544.57,304.03 L545.10,308.30 L545.63,308.16 L546.17,311.07 L546.70,311.30 L547.23,310.03 L547.77,310.59 L548.30,310.00 L548.87,312.00 L549.43,313.46 L550.00,316.40 L550.53,316.47 L551.07,314.37 L551.60,314.80 L552.13,316.81 L552.67,317.07 L553.20,319.70 L553.73,318.93 L554.27,317.82 L554.80,318.00 L554.80,324.20 L555.33,322.63 L555.87,323.49 L556.40,321.30 L556.93,322.52 L557.47,321.66 L558.00,322.60 L558.57,324.70 L559.13,324.05 L559.70,325.90 L560.10,332.88 L560.50,340.40 L561.05,347.77 L561.60,353.30 L562.10,347.22 L562.60,340.40 L563.20,330.00 L563.85,326.71 L564.50,325.50 L564.95,323.27 L565.40,318.50 L565.85,319.50 L566.30,322.00 L566.90,317.02 L567.50,313.30 L568.20,311.01 L568.90,307.30 L569.60,309.01 L570.30,311.60 L570.90,304.12 L571.50,297.70 L571.90,291.39 L572.30,287.30 L572.75,285.38 L573.20,285.60 L573.70,316.80 L574.40,292.50 L574.85,287.47 L575.30,282.00 L575.77,279.63 L576.23,278.86 L576.70,276.90 L577.10,293.92 L577.50,311.60 L577.95,294.58 L578.40,277.80 L579.00,295.04 L579.60,309.90 L580.10,293.36 L580.60,276.90 L581.30,309.90 L581.85,293.59 L582.40,276.90 L583.00,292.60 L583.60,306.40 L584.05,292.58 L584.50,280.40 L584.90,291.65 L585.30,304.70 L585.75,300.56 L586.20,294.30 L586.65,307.23 L587.10,318.50 L587.50,306.60 L587.90,296.00 L588.35,302.14 L588.80,309.90 L589.25,307.92 L589.70,304.70 L590.10,314.50 L590.50,322.00 L590.95,316.01 L591.40,311.60 L591.85,317.12 L592.30,320.30 L592.70,318.69 L593.10,315.10 L593.80,323.17 L594.50,330.70 L595.10,329.60 L595.70,328.90 L596.30,329.62 L596.90,332.40 L597.60,330.35 L598.30,330.70 L598.77,333.64 L599.23,333.49 L599.70,335.90 L600.30,334.68 L600.90,332.40 L601.50,334.37 L602.10,337.60 L602.70,332.74 L603.30,326.20 L603.90,332.10 L604.50,337.50 L604.90,337.86 L605.30,339.30 L605.87,336.16 L606.43,335.27 L607.00,332.40 L607.70,325.23 L608.40,320.30 L609.00,323.04 L609.60,327.20 L609.80,325.00 L610.33,328.22 L610.87,332.05 L611.40,334.20 L611.95,336.15 L612.50,337.50 L613.10,336.13 L613.70,335.90 L614.35,338.19 L615.00,338.30 L615.65,339.53 L616.30,342.30 L616.85,343.49 L617.40,347.20 L617.95,347.80 L618.50,349.60 L619.00,349.06 L619.50,348.80 L620.05,347.66 L620.60,348.80" fill="none" stroke="#D95319" stroke-width="1.1" stroke-linejoin="round"/>
<path d="M69.19,346.90 L76.87,342.16 L84.56,337.23 L92.24,328.97 L99.92,339.31 L107.61,325.11 L115.29,326.20 L122.98,303.50 L130.66,280.90 L138.35,300.28 L146.03,308.03 L153.72,312.95 L161.41,312.04 L169.09,283.08 L176.78,307.13 L184.46,323.32 L192.14,321.78 L199.83,313.98 L207.51,298.73 L215.20,292.31 L222.88,319.29 L230.57,339.01 L238.25,334.51 L245.94,324.65 L253.62,327.42 L261.31,334.97 L269.00,332.56 L276.68,351.50 L284.36,338.17 L292.05,324.31 L299.74,322.44 L307.42,300.94 L315.10,283.25 L322.79,303.17 L330.48,313.55 L338.16,313.66 L345.84,298.14 L353.53,276.62 L361.21,305.04 L368.90,318.38 L376.58,313.98 L384.27,312.45 L391.95,290.16 L399.64,288.57 L407.32,322.26 L415.01,342.17 L422.69,336.45 L430.38,328.91 L438.06,328.33 L445.75,335.24 L453.44,329.88 L461.12,330.59 L468.80,346.91 L476.49,327.78 L484.18,325.82 L491.86,303.10 L499.54,280.83 L507.23,305.34 L514.91,315.59 L522.60,313.35 L530.28,302.04 L537.97,274.00 L545.65,297.43 L553.34,314.04 L561.02,320.76 L568.71,321.69 L576.39,290.50 L584.08,290.70 L591.76,320.37 L599.45,344.74 L607.13,342.52 L614.82,331.56 L622.50,346.36" fill="none" stroke="#EDB120" stroke-width="1.1" stroke-linejoin="round"/>
<path d="M69.30,163.50 C69.57,162.48 70.23,159.63 70.90,157.40 C71.57,155.17 72.35,152.27 73.30,150.10 C74.25,147.93 75.52,145.88 76.60,144.40 C77.68,142.92 78.45,142.42 79.80,141.20 C81.15,139.98 83.35,138.45 84.70,137.10 C86.05,135.75 86.70,134.25 87.90,133.10 C89.10,131.95 90.82,130.53 91.90,130.20 C92.98,129.87 93.58,130.40 94.40,131.10 C95.22,131.80 95.95,133.40 96.80,134.40 C97.65,135.40 98.55,137.05 99.50,137.10 C100.45,137.15 101.47,135.90 102.50,134.70 C103.53,133.50 104.63,131.38 105.70,129.90 C106.77,128.42 108.18,126.73 108.90,125.80 C109.62,124.87 109.02,124.22 110.00,124.30 C110.98,124.38 113.32,125.83 114.80,126.30 C116.28,126.77 117.68,127.37 118.90,127.10 C120.12,126.83 121.02,125.92 122.10,124.70 C123.18,123.48 124.45,121.70 125.40,119.80 C126.35,117.90 127.00,115.72 127.80,113.30 C128.60,110.88 129.27,107.50 130.20,105.30 C131.13,103.10 132.32,101.23 133.40,100.10 C134.48,98.97 135.22,98.72 136.70,98.50 C138.18,98.28 140.55,98.48 142.30,98.80 C144.05,99.12 145.58,99.73 147.20,100.40 C148.82,101.07 150.52,101.85 152.00,102.80 C153.48,103.75 155.02,105.20 156.10,106.10 C157.18,107.00 157.57,108.07 158.50,108.20 C159.43,108.33 160.48,107.93 161.70,106.90 C162.92,105.87 164.45,103.35 165.80,102.00 C167.15,100.65 168.27,99.30 169.80,98.80 C171.33,98.30 173.33,98.70 175.00,99.00 C176.67,99.30 178.18,100.07 179.80,100.60 C181.42,101.13 182.80,101.77 184.70,102.20 C186.60,102.63 189.32,102.98 191.20,103.20 C193.08,103.42 194.38,103.32 196.00,103.50 C197.62,103.68 199.28,103.82 200.90,104.30 C202.52,104.78 204.08,105.73 205.70,106.40 C207.32,107.07 208.98,107.83 210.60,108.30 C212.22,108.77 213.78,109.20 215.40,109.20 C217.02,109.20 218.68,108.50 220.30,108.30 C221.92,108.10 223.48,108.13 225.10,108.00 C226.72,107.87 228.38,107.67 230.00,107.50 C231.62,107.33 233.18,107.08 234.80,107.00 C236.42,106.92 238.03,106.82 239.70,107.00 C241.37,107.18 243.13,107.48 244.80,108.10 C246.47,108.72 248.08,109.68 249.70,110.70 C251.32,111.72 252.88,112.93 254.50,114.20 C256.12,115.47 257.78,116.95 259.40,118.30 C261.02,119.65 262.58,120.68 264.20,122.30 C265.82,123.92 267.75,125.57 269.10,128.00 C270.45,130.43 271.22,133.67 272.30,136.90 C273.38,140.13 274.65,145.38 275.60,147.40 C276.55,149.42 277.07,149.40 278.00,149.00 C278.93,148.60 280.12,147.70 281.20,145.00 C282.28,142.30 283.42,135.63 284.50,132.80 C285.58,129.97 286.50,128.88 287.70,128.00 C288.90,127.12 290.22,127.37 291.70,127.50 C293.18,127.63 295.12,127.98 296.60,128.80 C298.08,129.62 299.25,131.27 300.60,132.40 C301.95,133.53 303.48,135.12 304.70,135.60 C305.92,136.08 307.02,135.63 307.90,135.30 C308.78,134.97 309.27,134.78 310.00,133.60 C310.73,132.42 311.38,129.27 312.30,128.20 C313.22,127.13 314.43,126.88 315.50,127.20 C316.57,127.52 317.62,128.80 318.70,130.10 C319.78,131.40 320.78,133.38 322.00,135.00 C323.22,136.62 324.52,138.47 326.00,139.80 C327.48,141.13 329.28,142.05 330.90,143.00 C332.52,143.95 334.22,144.95 335.70,145.50 C337.18,146.05 338.45,146.57 339.80,146.30 C341.15,146.03 342.47,144.85 343.80,143.90 C345.13,142.95 346.45,141.42 347.80,140.60 C349.15,139.78 350.68,139.00 351.90,139.00 C353.12,139.00 354.03,139.78 355.10,140.60 C356.17,141.42 357.22,142.95 358.30,143.90 C359.38,144.85 360.38,146.03 361.60,146.30 C362.82,146.57 364.25,146.32 365.60,145.50 C366.95,144.68 368.43,143.33 369.70,141.40 C370.97,139.47 372.07,135.57 373.20,133.90 C374.33,132.23 375.42,131.95 376.50,131.40 C377.58,130.85 378.63,131.00 379.70,130.60 C380.77,130.20 381.82,129.53 382.90,129.00 C383.98,128.47 385.12,127.93 386.20,127.40 C387.28,126.87 388.33,126.20 389.40,125.80 C390.47,125.40 391.25,125.08 392.60,125.00 C393.95,124.92 395.88,125.17 397.50,125.30 C399.12,125.43 400.68,125.85 402.30,125.80 C403.92,125.75 405.58,125.25 407.20,125.00 C408.82,124.75 410.38,124.50 412.00,124.30 C413.62,124.10 415.28,123.90 416.90,123.80 C418.52,123.70 420.08,123.70 421.70,123.70 C423.32,123.70 424.98,123.70 426.60,123.80 C428.22,123.90 430.00,124.37 431.40,124.30 C432.80,124.23 433.60,122.33 435.00,123.40 C436.40,124.47 438.18,127.87 439.80,130.70 C441.42,133.53 443.35,138.30 444.70,140.40 C446.05,142.50 446.82,143.30 447.90,143.30 C448.98,143.30 450.12,141.28 451.20,140.40 C452.28,139.52 453.20,138.32 454.40,138.00 C455.60,137.68 457.18,137.83 458.40,138.50 C459.62,139.17 460.62,140.33 461.70,142.00 C462.78,143.67 463.83,146.33 464.90,148.50 C465.97,150.67 467.15,153.65 468.10,155.00 C469.05,156.35 469.65,157.15 470.60,156.60 C471.55,156.05 472.73,153.32 473.80,151.70 C474.87,150.08 475.78,147.70 477.00,146.90 C478.22,146.10 479.88,146.37 481.10,146.90 C482.32,147.43 483.23,148.75 484.30,150.10 C485.37,151.45 486.42,153.92 487.50,155.00 C488.58,156.08 489.72,156.88 490.80,156.60 C491.88,156.32 492.93,155.47 494.00,153.30 C495.07,151.13 496.12,145.88 497.20,143.60 C498.28,141.32 499.50,140.08 500.50,139.60 C501.50,139.12 502.20,139.83 503.20,140.70 C504.20,141.57 505.42,143.50 506.50,144.80 C507.58,146.10 508.63,147.62 509.70,148.50 C510.77,149.38 511.82,149.92 512.90,150.10 C513.98,150.28 514.85,149.87 516.20,149.60 C517.55,149.33 519.38,148.73 521.00,148.50 C522.62,148.27 524.42,148.42 525.90,148.20 C527.38,147.98 528.70,148.05 529.90,147.20 C531.10,146.35 532.02,144.58 533.10,143.10 C534.18,141.62 535.18,139.83 536.40,138.30 C537.62,136.77 539.05,134.98 540.40,133.90 C541.75,132.82 542.88,132.23 544.50,131.80 C546.12,131.37 548.08,131.35 550.10,131.30 C552.12,131.25 554.95,131.33 556.60,131.50 C558.25,131.67 558.90,132.03 560.00,132.30 C561.10,132.57 562.12,133.37 563.20,133.10 C564.28,132.83 565.42,131.63 566.50,130.70 C567.58,129.77 568.63,128.85 569.70,127.50 C570.77,126.15 571.82,124.22 572.90,122.60 C573.98,120.98 575.12,118.73 576.20,117.80 C577.28,116.87 578.33,117.00 579.40,117.00 C580.47,117.00 581.52,117.53 582.60,117.80 C583.68,118.07 584.82,118.65 585.90,118.60 C586.98,118.55 588.03,117.90 589.10,117.50 C590.17,117.10 590.68,116.48 592.30,116.20 C593.92,115.92 596.63,115.93 598.80,115.80 C600.97,115.67 603.55,115.62 605.30,115.40 C607.05,115.18 608.10,114.65 609.30,114.50 C610.50,114.35 611.55,114.22 612.50,114.50 C613.45,114.78 614.18,115.38 615.00,116.20 C615.82,117.02 616.60,118.07 617.40,119.40 C618.20,120.73 619.27,123.12 619.80,124.20 C620.33,125.28 620.47,125.62 620.60,125.90" fill="none" stroke="#7E2F8E" stroke-width="1.1" stroke-linejoin="round"/>
<path d="M69.80,163.60 L70.30,162.94 L70.79,162.21 L71.29,161.42 L71.78,160.61 L72.28,158.66 L72.77,155.82 L73.27,154.17 L73.77,153.51 L74.26,152.62 L74.76,151.53 L75.25,148.72 L75.75,144.38 L76.25,141.95 L76.74,141.17 L77.24,140.40 L77.73,139.62 L78.23,139.20 L78.72,139.20 L79.22,139.20 L79.72,139.20 L80.21,139.34 L80.71,139.51 L81.20,139.68 L81.70,139.85 L82.19,140.02 L82.69,140.19 L83.19,140.38 L83.68,140.58 L84.18,140.78 L84.67,140.98 L85.17,141.18 L85.66,141.38 L86.16,141.58 L86.66,141.67 L87.15,141.71 L87.65,141.76 L88.14,141.80 L88.64,141.84 L89.14,141.89 L89.63,141.95 L90.13,142.04 L90.62,142.30 L91.12,142.64 L91.61,142.98 L92.11,143.32 L92.61,143.66 L93.10,143.95 L93.60,144.42 L94.09,144.90 L94.59,145.09 L95.08,144.81 L95.58,144.52 L96.08,144.25 L96.57,144.07 L97.07,143.90 L97.56,143.72 L98.06,143.73 L98.55,143.77 L99.05,143.80 L99.55,143.83 L100.04,143.86 L100.54,143.87 L101.03,143.97 L101.53,144.15 L102.03,144.34 L102.52,144.53 L103.02,144.71 L103.51,144.91 L104.01,145.16 L104.50,146.78 L105.00,148.40 L105.00,155.60 L104.50,155.06 L104.01,154.53 L103.51,154.33 L103.02,154.23 L102.52,154.18 L102.03,154.13 L101.53,154.09 L101.03,154.04 L100.54,154.02 L100.04,154.02 L99.55,153.94 L99.05,153.86 L98.55,153.77 L98.06,153.69 L97.56,153.61 L97.07,153.58 L96.57,153.55 L96.08,153.52 L95.58,153.86 L95.08,154.26 L94.59,154.65 L94.09,154.93 L93.60,155.14 L93.10,155.35 L92.61,155.51 L92.11,155.25 L91.61,154.99 L91.12,154.73 L90.62,154.47 L90.13,154.23 L89.63,154.03 L89.14,153.99 L88.64,154.00 L88.14,154.01 L87.65,154.03 L87.15,154.04 L86.66,154.05 L86.16,153.96 L85.66,153.61 L85.17,153.25 L84.67,152.90 L84.18,152.54 L83.68,152.19 L83.19,151.83 L82.69,151.56 L82.19,151.35 L81.70,151.13 L81.20,150.91 L80.71,150.70 L80.21,150.48 L79.72,150.30 L79.22,150.30 L78.72,150.30 L78.23,150.30 L77.73,150.57 L77.24,151.08 L76.74,151.58 L76.25,152.08 L75.75,153.00 L75.25,155.48 L74.76,158.04 L74.26,160.17 L73.77,161.49 L73.27,161.90 L72.77,162.55 L72.28,163.50 L71.78,164.23 L71.29,164.67 L70.79,165.05 L70.30,165.23 L69.80,165.40Z" fill="#77AC30" fill-opacity="0.2" stroke="none"/>
<path d="M69.80,163.36 L70.53,165.83 L71.12,161.49 L71.81,164.87 L72.50,156.07 L73.24,159.32 L74.19,154.99 L75.20,155.00 L75.79,142.44 L76.71,154.01 L77.29,138.73 L78.08,153.39 L78.99,137.67 L79.87,153.50 L80.62,136.13 L81.28,153.06 L81.94,145.26 L82.72,155.11 L83.32,137.38 L84.00,155.83 L84.98,138.90 L85.74,156.71 L86.46,137.67 L87.49,157.88 L88.35,139.86 L89.04,157.55 L89.81,148.07 L90.79,158.56 L91.69,141.18 L92.53,159.42 L93.54,148.87 L94.57,157.48 L95.20,142.58 L96.21,155.57 L97.14,141.52 L97.72,155.70 L98.72,141.73 L99.34,156.86 L100.24,140.71 L101.05,156.46 L101.72,142.12 L102.42,153.47 L103.29,143.34 L103.96,154.89 L104.86,145.90" fill="none" stroke="#77AC30" stroke-width="0.8" stroke-linejoin="round"/>
<path d="M104.86,145.90 L105.00,146.10 L105.50,146.48 L106.00,147.26 L106.50,147.60 L106.90,153.95 L107.30,158.10 L107.80,157.01 L108.30,156.12 L108.80,155.10 L109.30,156.83 L109.80,157.28 L110.30,159.60 L110.80,157.13 L111.30,154.94 L111.80,152.10 L112.30,148.86 L112.80,143.04 L113.30,140.10 L113.80,141.09 L114.30,143.10 L114.90,138.29 L115.50,135.60 L116.10,138.66 L116.70,140.10 L117.25,145.10 L117.80,149.10 L118.30,141.41 L118.80,137.35 L119.30,129.60 L119.65,125.51 L120.00,119.00 L120.60,122.45 L121.20,125.10 L121.75,120.10 L122.30,114.50 L122.80,117.36 L123.30,122.00 L123.90,116.24 L124.50,113.00 L125.10,116.82 L125.70,120.50 L126.25,124.65 L126.80,131.10 L127.30,131.29 L127.80,132.43 L128.30,134.10 L128.80,131.38 L129.30,131.01 L129.80,129.60 L130.30,126.91 L130.80,125.42 L131.30,122.00 L131.80,123.08 L132.30,124.43 L132.80,125.10 L133.30,122.07 L133.80,119.46 L134.30,116.00 L134.80,113.89 L135.30,111.42 L135.80,110.00 L136.30,109.29 L136.80,107.29 L137.30,104.00 L137.85,101.88 L138.40,98.00 L138.85,102.29 L139.30,105.50 L139.80,104.02 L140.30,102.80 L140.80,102.50 L141.30,105.45 L141.80,108.38 L142.30,113.00 L142.80,111.69 L143.30,108.74 L143.80,107.00 L144.30,108.40 L144.80,107.70 L145.30,108.50 L145.80,108.69 L146.30,107.40 L146.80,105.50 L147.40,105.70 L148.00,107.75 L148.60,110.00 L149.10,110.07 L149.60,107.92 L150.10,107.00 L150.60,109.75 L151.10,109.73 L151.60,111.50 L152.15,114.54 L152.70,120.14 L153.25,124.67 L153.80,128.10 L154.35,119.20 L154.90,111.50 L155.40,108.93 L155.90,108.06 L156.40,107.00 L156.90,109.21 L157.40,109.67 L157.90,110.00 L158.40,107.01 L158.90,105.34 L159.40,104.00 L159.95,98.46 L160.50,95.00 L160.95,84.46 L161.40,76.20 L161.95,75.32 L162.50,72.90 L163.07,74.23 L163.63,77.39 L164.20,79.40 L164.73,83.56 L165.27,87.20 L165.80,92.30 L166.33,97.24 L166.87,100.01 L167.40,105.30 L167.93,108.34 L168.47,109.64 L169.00,113.30 L169.53,115.26 L170.07,116.89 L170.60,119.80 L171.13,121.37 L171.67,125.36 L172.20,126.30 L172.77,123.86 L173.33,119.32 L173.90,116.60 L174.45,119.95 L175.00,121.30 L175.40,121.60 L175.80,123.40 L176.20,117.23 L176.60,111.60 L177.13,114.12 L177.67,115.17 L178.20,116.40 L178.73,110.53 L179.27,108.01 L179.80,101.90 L180.37,102.75 L180.93,104.47 L181.50,106.70 L182.03,106.34 L182.57,104.12 L183.10,103.50 L183.63,106.10 L184.17,108.66 L184.70,112.90 L185.23,107.63 L185.77,104.72 L186.30,100.30 L186.83,99.07 L187.37,99.43 L187.90,98.60 L188.43,98.83 L188.97,99.61 L189.50,100.30 L190.07,103.09 L190.63,103.46 L191.20,105.10 L191.80,108.27 L192.40,112.00 L193.00,113.20 L193.60,117.00 L194.10,106.70 L194.65,102.60 L195.20,100.30 L195.75,98.11 L196.30,93.80 L196.95,99.48 L197.60,103.50 L198.13,98.55 L198.67,94.09 L199.20,90.60 L199.60,103.17 L200.00,114.50 L200.57,108.21 L201.13,98.84 L201.70,92.20 L202.23,92.30 L202.77,91.06 L203.30,89.00 L203.95,98.92 L204.60,108.30 L205.07,101.10 L205.53,93.27 L206.00,87.30 L206.65,105.80 L207.30,126.70 L207.83,117.47 L208.37,105.15 L208.90,95.40 L209.47,92.70 L210.03,88.30 L210.60,85.70 L211.00,102.59 L211.40,117.80 L211.80,113.15 L212.20,108.00 L212.60,102.76 L213.00,98.60 L213.53,104.79 L214.07,113.24 L214.60,119.70 L215.00,123.68 L215.40,129.90 L215.80,115.99 L216.20,103.50 L216.85,113.35 L217.50,122.90 L217.90,126.12 L218.30,127.50 L219.00,113.20 L219.53,109.73 L220.07,105.10 L220.60,101.90 L221.25,109.44 L221.90,114.80 L222.30,115.53 L222.70,117.80 L223.10,109.39 L223.50,103.50 L224.03,104.50 L224.57,106.56 L225.10,108.30 L225.63,104.49 L226.17,102.12 L226.70,100.30 L227.23,102.03 L227.77,104.62 L228.30,106.50 L228.87,102.91 L229.43,100.87 L230.00,98.60 L230.53,98.55 L231.07,97.72 L231.60,95.40 L232.25,99.86 L232.90,103.50 L233.43,101.83 L233.97,99.39 L234.50,97.00 L234.80,108.90 L235.45,103.66 L236.10,100.30 L236.73,96.39 L237.37,93.65 L238.00,92.20 L238.65,90.82 L239.30,87.30 L239.90,92.67 L240.50,97.00 L241.00,100.70 L241.50,102.00" fill="none" stroke="#77AC30" stroke-width="1.1" stroke-linejoin="round"/>
<path d="M241.50,101.36 L242.00,101.53 L242.49,101.71 L242.99,101.88 L243.48,102.06 L243.98,102.23 L244.47,102.40 L244.97,102.55 L245.47,102.65 L245.96,102.75 L246.46,102.85 L246.95,103.33 L247.45,103.84 L247.94,104.35 L248.44,104.86 L248.94,105.37 L249.43,105.88 L249.93,106.41 L250.42,106.94 L250.92,107.47 L251.42,108.00 L251.91,108.54 L252.41,109.07 L252.90,109.60 L253.40,110.38 L253.89,111.16 L254.39,111.94 L254.89,112.72 L255.38,113.51 L255.88,114.31 L256.37,115.10 L256.87,115.89 L257.36,116.63 L257.86,117.35 L258.36,118.08 L258.85,118.80 L259.35,119.52 L259.84,119.84 L260.34,120.14 L260.83,120.46 L261.33,120.77 L261.83,121.08 L262.32,121.39 L262.82,121.56 L263.31,121.73 L263.81,121.90 L264.31,122.07 L264.80,122.22 L265.30,122.36 L265.79,122.50 L266.29,122.63 L266.78,122.77 L267.28,122.91 L267.78,123.04 L268.27,123.18 L268.77,122.99 L269.26,122.87 L269.76,122.74 L270.25,122.61 L270.75,122.32 L271.25,122.02 L271.74,122.08 L272.24,122.51 L272.73,122.95 L273.23,123.39 L273.72,123.83 L274.22,124.27 L274.72,124.71 L275.21,125.61 L275.71,126.60 L276.20,127.59 L276.70,128.58 L277.19,129.58 L277.69,130.57 L278.19,131.56 L278.68,132.50 L279.18,132.73 L279.67,132.76 L280.17,132.78 L280.67,132.81 L281.16,132.83 L281.66,132.86 L282.15,132.90 L282.65,133.01 L283.14,133.25 L283.64,133.55 L284.14,133.85 L284.63,134.16 L285.13,134.46 L285.62,134.76 L286.12,135.06 L286.61,135.36 L287.11,135.66 L287.61,135.96 L288.10,136.26 L288.60,136.58 L289.09,137.07 L289.59,137.57 L290.08,138.06 L290.58,138.55 L291.08,139.05 L291.57,139.54 L292.07,140.14 L292.56,140.78 L293.06,141.41 L293.56,141.17 L294.05,140.22 L294.55,139.26 L295.04,138.29 L295.54,137.07 L296.03,135.85 L296.53,134.64 L297.03,133.42 L297.52,132.21 L298.02,131.05 L298.51,130.54 L299.01,130.43 L299.50,130.31 L300.00,130.20 L300.00,148.80 L299.50,149.26 L299.01,149.72 L298.51,150.17 L298.02,150.73 L297.52,151.45 L297.03,152.32 L296.53,153.25 L296.03,154.17 L295.54,155.09 L295.04,156.02 L294.55,155.98 L294.05,155.84 L293.56,155.71 L293.06,155.40 L292.56,154.44 L292.07,153.42 L291.57,152.56 L291.08,152.13 L290.58,151.71 L290.08,151.29 L289.59,150.86 L289.09,150.44 L288.60,150.02 L288.10,149.86 L287.61,149.72 L287.11,149.57 L286.61,149.42 L286.12,149.27 L285.62,149.10 L285.13,148.94 L284.63,148.77 L284.14,148.60 L283.64,148.44 L283.14,148.27 L282.65,148.12 L282.15,148.00 L281.66,148.11 L281.16,148.31 L280.67,148.51 L280.17,148.71 L279.67,148.91 L279.18,149.11 L278.68,149.26 L278.19,149.09 L277.69,148.74 L277.19,148.38 L276.70,148.02 L276.20,147.66 L275.71,147.31 L275.21,146.95 L274.72,146.59 L274.22,146.32 L273.72,146.05 L273.23,145.78 L272.73,145.51 L272.24,145.25 L271.74,144.98 L271.25,144.81 L270.75,144.72 L270.25,144.58 L269.76,143.78 L269.26,142.99 L268.77,142.19 L268.27,141.74 L267.78,141.59 L267.28,141.43 L266.78,141.28 L266.29,141.12 L265.79,140.97 L265.30,140.82 L264.80,140.66 L264.31,140.50 L263.81,140.34 L263.31,140.18 L262.82,140.01 L262.32,139.85 L261.83,139.15 L261.33,138.43 L260.83,137.70 L260.34,136.98 L259.84,136.30 L259.35,135.73 L258.85,135.05 L258.36,134.37 L257.86,133.70 L257.36,133.02 L256.87,132.27 L256.37,131.33 L255.88,130.39 L255.38,129.45 L254.89,128.51 L254.39,127.58 L253.89,126.69 L253.40,125.80 L252.90,124.90 L252.41,124.07 L251.91,123.24 L251.42,122.41 L250.92,121.58 L250.42,120.75 L249.93,119.92 L249.43,119.14 L248.94,118.40 L248.44,117.65 L247.94,116.91 L247.45,116.17 L246.95,115.43 L246.46,114.69 L245.96,114.05 L245.47,113.41 L244.97,112.77 L244.47,111.94 L243.98,111.01 L243.48,110.07 L242.99,109.14 L242.49,108.21 L242.00,107.27 L241.50,106.34Z" fill="#77AC30" fill-opacity="0.2" stroke="none"/>
<path d="M241.50,102.00 L241.50,100.37 L242.35,106.80 L243.19,99.48 L244.14,113.34 L245.32,100.66 L246.14,116.34 L247.34,100.20 L248.49,117.94 L249.49,102.01 L250.44,118.27 L251.23,104.16 L252.51,128.93 L253.25,112.13 L254.48,124.33 L255.74,109.79 L257.00,136.04 L258.10,113.49 L259.00,140.22 L259.86,121.52 L260.64,140.48 L261.55,128.30 L262.51,145.92 L263.44,119.02 L264.35,144.02 L265.40,93.20 L266.03,147.10 L267.28,123.61 L268.52,147.02 L269.79,118.30 L270.92,151.12 L271.62,130.47 L272.70,149.62 L273.54,127.76 L274.82,152.57 L275.77,130.77 L276.58,142.95 L277.78,127.51 L278.67,153.99 L279.84,127.66 L281.00,152.94 L281.72,129.47 L283.00,143.74 L283.86,129.00 L284.86,152.05 L285.70,131.23 L286.81,146.32 L287.91,135.42 L288.78,153.43 L289.92,134.01 L290.77,153.08 L291.82,136.31 L293.11,158.98 L294.30,144.63 L295.06,154.57 L296.27,132.51 L297.14,158.07 L298.43,135.59 L299.35,153.11" fill="none" stroke="#77AC30" stroke-width="0.8" stroke-linejoin="round"/>
<path d="M299.35,153.11 L300.00,124.30 L300.40,130.63 L300.80,137.20 L301.33,142.22 L301.87,148.04 L302.40,151.80 L302.93,145.21 L303.47,138.82 L304.00,132.30 L304.60,127.68 L305.20,122.60 L305.85,126.63 L306.50,132.30 L307.03,139.36 L307.57,146.70 L308.10,153.40 L308.75,142.01 L309.40,129.10 L310.00,116.20 L310.65,117.54 L311.30,121.00 L311.95,129.39 L312.60,138.80 L313.15,141.79 L313.70,146.90 L314.27,152.57 L314.83,157.14 L315.40,161.50 L315.95,152.21 L316.50,145.30 L317.15,148.15 L317.80,148.50 L318.33,147.54 L318.87,144.57 L319.40,142.00 L319.93,140.17 L320.47,136.84 L321.00,135.60 L321.53,131.11 L322.07,129.21 L322.60,125.90 L323.25,121.50 L323.90,119.40 L324.50,125.04 L325.10,132.30 L325.50,136.48 L325.90,142.00 L326.55,148.08 L327.20,156.60 L327.75,153.26 L328.30,150.10 L328.83,149.41 L329.37,149.92 L329.90,148.50 L330.43,147.48 L330.97,146.73 L331.50,145.30 L332.07,148.00 L332.63,151.12 L333.20,153.40 L333.73,149.49 L334.27,145.22 L334.80,142.00 L335.33,142.23 L335.87,141.16 L336.40,138.80 L336.93,141.32 L337.47,142.61 L338.00,143.70 L338.53,143.75 L339.07,144.06 L339.60,145.30 L340.13,143.65 L340.67,141.98 L341.20,142.00 L341.77,139.46 L342.33,135.27 L342.90,132.30 L343.43,132.67 L343.97,130.94 L344.50,130.70 L345.05,124.64 L345.60,116.20 L346.00,105.50 L346.40,93.00 L346.90,94.90 L347.40,99.40 L347.95,111.90 L348.50,125.90 L349.03,129.10 L349.57,130.09 L350.10,132.30 L350.67,137.35 L351.23,139.63 L351.80,143.70 L352.33,144.72 L352.87,148.30 L353.40,150.10 L353.93,153.52 L354.47,154.90 L355.00,158.20 L355.53,158.56 L356.07,160.63 L356.60,162.50 L357.25,159.96 L357.90,155.00 L358.45,153.22 L359.00,150.10 L359.50,147.51 L360.00,146.90 L360.53,148.57 L361.07,150.53 L361.60,153.90 L362.13,149.12 L362.67,147.41 L363.20,143.00 L363.60,145.21 L364.00,149.10 L364.53,146.15 L365.07,142.76 L365.60,139.80 L366.13,139.40 L366.67,141.20 L367.20,141.00 L367.77,138.57 L368.33,138.44 L368.90,136.60 L369.30,136.20 L369.70,137.80 L370.23,136.09 L370.77,134.05 L371.30,133.30 L371.83,132.57 L372.37,134.26 L372.90,132.90 L373.43,133.06 L373.97,131.12 L374.50,131.00" fill="none" stroke="#77AC30" stroke-width="1.1" stroke-linejoin="round"/>
<path d="M374.50,132.40 L375.00,132.44 L375.49,132.49 L375.99,132.53 L376.49,131.96 L376.98,131.25 L377.48,130.53 L377.98,129.82 L378.48,129.10 L378.97,128.39 L379.47,127.67 L379.97,126.69 L380.46,125.49 L380.96,124.28 L381.46,123.08 L381.95,121.87 L382.45,121.17 L382.95,120.67 L383.44,120.18 L383.94,119.69 L384.44,119.20 L384.94,118.67 L385.43,117.60 L385.93,116.54 L386.43,115.75 L386.92,115.31 L387.42,114.87 L387.92,114.51 L388.41,114.44 L388.91,114.37 L389.41,114.29 L389.90,114.22 L390.40,114.76 L390.90,116.19 L391.40,117.62 L391.89,119.05 L392.39,120.47 L392.89,121.10 L393.38,121.14 L393.88,121.18 L394.38,121.21 L394.87,121.25 L395.37,121.17 L395.87,121.04 L396.36,121.11 L396.86,121.18 L397.36,121.26 L397.86,121.71 L398.35,122.32 L398.85,122.93 L399.35,123.73 L399.84,124.73 L400.34,125.74 L400.84,126.07 L401.33,126.30 L401.83,126.54 L402.33,126.75 L402.82,126.58 L403.32,126.41 L403.82,126.25 L404.32,126.06 L404.81,125.37 L405.31,124.68 L405.81,124.20 L406.30,124.00 L406.80,123.80 L406.80,132.20 L406.30,134.11 L405.81,136.03 L405.31,138.01 L404.81,140.05 L404.32,142.08 L403.82,142.10 L403.32,142.05 L402.82,141.99 L402.33,141.94 L401.83,143.16 L401.33,144.46 L400.84,145.75 L400.34,146.68 L399.84,144.89 L399.35,143.11 L398.85,141.38 L398.35,139.70 L397.86,138.02 L397.36,136.95 L396.86,137.39 L396.36,137.83 L395.87,138.28 L395.37,138.77 L394.87,139.10 L394.38,138.95 L393.88,138.80 L393.38,138.65 L392.89,138.51 L392.39,138.13 L391.89,137.45 L391.40,136.76 L390.90,136.08 L390.40,135.40 L389.90,134.94 L389.41,134.63 L388.91,134.32 L388.41,134.01 L387.92,133.70 L387.42,134.53 L386.92,135.71 L386.43,136.89 L385.93,138.15 L385.43,139.48 L384.94,140.82 L384.44,140.00 L383.94,139.02 L383.44,138.03 L382.95,137.05 L382.45,136.07 L381.95,135.92 L381.46,137.76 L380.96,139.60 L380.46,141.44 L379.97,143.28 L379.47,144.03 L378.97,143.55 L378.48,143.06 L377.98,142.58 L377.48,142.09 L376.98,141.61 L376.49,141.11 L375.99,140.10 L375.49,138.93 L375.00,137.77 L374.50,136.60Z" fill="#77AC30" fill-opacity="0.2" stroke="none"/>
<path d="M374.50,131.00 L374.50,134.02 L375.26,139.80 L376.09,130.37 L376.92,144.53 L378.01,126.02 L378.90,146.85 L379.79,127.16 L380.82,145.12 L381.76,119.16 L382.51,140.83 L383.46,115.22 L384.73,146.71 L385.64,120.29 L386.94,141.27 L388.08,108.84 L389.32,133.51 L390.26,111.09 L391.06,142.81 L392.15,117.04 L393.22,143.39 L394.01,116.30 L395.26,144.47 L396.44,118.79 L397.22,131.85 L398.21,120.48 L399.14,145.98 L400.34,125.18 L401.17,144.09 L402.37,122.22 L403.31,145.96 L404.08,126.66 L405.32,142.31 L406.47,122.90" fill="none" stroke="#77AC30" stroke-width="0.8" stroke-linejoin="round"/>
<path d="M406.47,122.90 L406.80,122.60 L407.50,120.18 L408.20,118.16 L408.90,115.70 L409.55,114.75 L410.20,111.60 L410.67,111.51 L411.13,111.62 L411.60,111.60 L412.30,113.18 L413.00,114.30 L413.70,111.43 L414.40,110.20 L414.87,107.90 L415.33,105.87 L415.80,103.20 L416.50,97.00 L417.20,106.00 L417.85,108.16 L418.50,108.80 L419.20,110.49 L419.90,114.30 L420.40,117.29 L420.90,120.24 L421.40,124.80 L422.05,117.61 L422.70,108.80 L423.40,106.00 L423.75,108.60 L424.10,110.20 L424.80,112.46 L425.50,117.10 L426.20,120.40 L426.90,121.20 L427.55,123.11 L428.20,122.60" fill="none" stroke="#77AC30" stroke-width="1.1" stroke-linejoin="round"/>
<path d="M428.20,119.40 L428.70,118.18 L429.19,116.95 L429.69,115.73 L430.19,114.85 L430.68,114.55 L431.18,114.25 L431.68,113.95 L432.17,113.93 L432.67,114.42 L433.17,114.78 L433.66,114.88 L434.16,114.97 L434.65,115.07 L435.15,115.16 L435.65,115.26 L436.14,115.38 L436.64,115.60 L437.14,115.82 L437.63,116.05 L438.13,116.30 L438.63,116.80 L439.12,118.03 L439.62,119.26 L440.12,120.53 L440.61,121.91 L441.11,123.29 L441.61,124.69 L442.10,126.16 L442.60,127.05 L443.10,127.81 L443.59,128.56 L444.09,129.31 L444.59,130.05 L445.08,130.89 L445.58,131.78 L446.07,132.68 L446.57,133.57 L447.07,134.47 L447.56,135.02 L448.06,135.49 L448.56,135.85 L449.05,136.21 L449.55,136.58 L450.05,136.94 L450.54,137.30 L451.04,137.66 L451.54,138.04 L452.03,138.43 L452.53,138.74 L453.03,138.97 L453.52,139.21 L454.02,139.44 L454.52,139.65 L455.01,139.78 L455.51,139.75 L456.01,139.70 L456.50,139.64 L457.00,139.58 L457.50,139.53 L457.99,139.64 L458.49,140.31 L458.98,140.98 L459.48,141.49 L459.98,141.88 L460.47,142.27 L460.97,142.69 L461.47,143.27 L461.96,143.86 L462.46,144.44 L462.96,144.76 L463.45,145.02 L463.95,145.18 L464.45,145.35 L464.94,145.51 L465.44,145.68 L465.94,145.85 L466.43,146.01 L466.93,146.18 L467.43,146.37 L467.92,146.63 L468.42,146.90 L468.92,147.17 L469.41,147.44 L469.91,147.70 L470.40,147.97 L470.90,148.29 L471.40,148.65 L471.89,149.17 L472.39,149.69 L472.89,150.21 L473.38,150.73 L473.88,151.26 L474.38,151.85 L474.87,152.84 L475.37,154.15 L475.87,155.46 L476.36,156.77 L476.86,158.10 L477.36,159.43 L477.85,160.76 L478.35,162.09 L478.85,162.31 L479.34,161.41 L479.84,160.50 L480.34,159.60 L480.83,158.69 L481.33,157.79 L481.82,156.88 L482.32,155.77 L482.82,154.77 L483.31,154.21 L483.81,153.65 L484.31,153.09 L484.80,152.66 L485.30,152.22 L485.80,151.79 L486.29,150.87 L486.79,149.84 L487.29,148.88 L487.78,147.93 L488.28,146.97 L488.78,145.82 L489.27,144.66 L489.77,143.50 L490.27,142.44 L490.76,141.47 L491.26,141.69 L491.76,142.01 L492.25,142.32 L492.75,142.63 L493.25,142.76 L493.74,140.99 L494.24,139.23 L494.73,137.46 L495.23,135.69 L495.73,134.86 L496.22,136.71 L496.72,138.56 L497.22,140.39 L497.71,141.81 L498.21,143.23 L498.71,144.64 L499.20,146.06 L499.70,147.48 L499.70,154.02 L499.20,153.17 L498.71,152.33 L498.21,151.48 L497.71,150.64 L497.22,149.79 L496.72,149.90 L496.22,150.04 L495.73,150.18 L495.23,151.00 L494.73,152.04 L494.24,153.09 L493.74,154.14 L493.25,155.18 L492.75,155.04 L492.25,154.77 L491.76,154.51 L491.26,154.24 L490.76,154.00 L490.27,154.06 L489.77,154.48 L489.27,155.31 L488.78,156.14 L488.28,156.97 L487.78,157.75 L487.29,158.53 L486.79,159.31 L486.29,160.39 L485.80,161.51 L485.30,162.50 L484.80,163.49 L484.31,164.48 L483.81,165.97 L483.31,167.46 L482.82,168.95 L482.32,170.55 L481.82,172.04 L481.33,172.72 L480.83,173.39 L480.34,174.07 L479.84,174.75 L479.34,175.43 L478.85,176.10 L478.35,175.88 L477.85,174.77 L477.36,173.66 L476.86,172.56 L476.36,171.45 L475.87,170.40 L475.37,169.37 L474.87,168.35 L474.38,167.40 L473.88,166.55 L473.38,165.97 L472.89,165.43 L472.39,164.89 L471.89,164.35 L471.40,163.82 L470.90,163.32 L470.40,162.97 L469.91,162.85 L469.41,162.72 L468.92,162.60 L468.42,162.48 L467.92,162.35 L467.43,162.23 L466.93,162.26 L466.43,162.34 L465.94,162.43 L465.44,162.51 L464.94,162.59 L464.45,162.68 L463.95,162.76 L463.45,162.84 L462.96,162.90 L462.46,162.86 L461.96,161.76 L461.47,160.66 L460.97,159.56 L460.47,159.12 L459.98,158.80 L459.48,158.48 L458.98,158.13 L458.49,157.73 L457.99,157.34 L457.50,157.13 L457.00,157.15 L456.50,157.16 L456.01,157.17 L455.51,157.19 L455.01,157.19 L454.52,157.16 L454.02,156.81 L453.52,156.35 L453.03,155.90 L452.53,155.45 L452.03,154.97 L451.54,154.48 L451.04,154.02 L450.54,153.62 L450.05,153.22 L449.55,152.82 L449.05,152.42 L448.56,152.02 L448.06,151.62 L447.56,151.19 L447.07,150.66 L446.57,148.74 L446.07,146.83 L445.58,144.91 L445.08,143.00 L444.59,141.31 L444.09,140.37 L443.59,139.43 L443.10,138.48 L442.60,137.54 L442.10,136.56 L441.61,135.43 L441.11,134.57 L440.61,133.78 L440.12,132.99 L439.62,132.23 L439.12,131.48 L438.63,130.72 L438.13,130.15 L437.63,129.65 L437.14,129.20 L436.64,128.80 L436.14,128.40 L435.65,128.02 L435.15,127.65 L434.65,127.28 L434.16,126.90 L433.66,126.51 L433.17,126.13 L432.67,125.68 L432.17,125.19 L431.68,124.84 L431.18,124.55 L430.68,124.25 L430.19,123.95 L429.69,123.80 L429.19,123.73 L428.70,123.67 L428.20,123.60Z" fill="#77AC30" fill-opacity="0.2" stroke="none"/>
<path d="M428.20,122.60 L428.20,118.50 L429.28,125.73 L430.33,112.46 L431.29,127.36 L432.37,111.47 L433.52,128.82 L434.33,112.14 L435.11,130.92 L436.07,112.35 L437.16,130.95 L438.32,113.17 L439.32,131.41 L440.11,125.96 L441.25,137.05 L442.53,128.99 L443.78,140.72 L445.04,126.96 L446.20,148.57 L447.06,131.70 L448.06,154.62 L448.92,132.36 L449.64,157.83 L450.50,111.80 L451.71,158.07 L452.72,135.37 L453.95,160.98 L455.18,138.68 L456.25,156.52 L457.11,137.19 L458.03,161.10 L458.84,137.60 L460.03,163.78 L461.32,139.38 L462.21,168.34 L463.00,140.98 L464.00,166.08 L464.84,142.01 L465.54,167.13 L466.46,141.31 L467.51,167.01 L468.49,146.26 L469.34,167.44 L470.42,154.69 L471.36,168.19 L472.45,146.39 L473.54,165.17 L474.68,152.83 L475.40,173.22 L476.25,155.07 L476.95,171.03 L477.74,156.33 L478.74,173.92 L479.55,157.20 L480.28,169.80 L481.41,155.71 L482.55,168.69 L483.53,150.27 L484.37,168.07 L485.51,155.35 L486.64,162.34 L487.60,146.56 L488.46,154.96 L489.29,142.93 L490.15,154.61 L491.42,139.48 L492.64,158.47 L493.89,137.70 L494.99,154.15 L496.19,141.05 L497.15,151.86 L498.04,140.28 L498.79,153.89 L499.50,146.49" fill="none" stroke="#77AC30" stroke-width="0.8" stroke-linejoin="round"/>
<path d="M499.50,146.49 L499.70,150.00 L500.00,158.50 L500.53,159.98 L501.07,161.86 L501.60,163.30 L502.00,169.25 L502.40,173.00 L502.93,168.08 L503.47,163.35 L504.00,158.50 L504.50,159.18 L505.00,159.40 L505.50,156.11 L506.00,154.50 L506.50,152.00 L507.03,158.80 L507.57,165.70 L508.10,171.40 L508.63,160.64 L509.17,151.49 L509.70,142.30 L510.23,142.87 L510.77,146.37 L511.30,147.20 L511.83,146.07 L512.37,142.74 L512.90,142.30 L513.43,145.19 L513.97,146.78 L514.50,147.20 L515.07,145.97 L515.63,144.23 L516.20,142.30 L516.73,143.58 L517.27,145.37 L517.80,148.80 L518.40,150.90 L519.00,151.70 L519.60,154.07 L520.20,156.90 L520.73,154.06 L521.27,151.34 L521.80,150.40 L522.33,151.94 L522.87,153.51 L523.40,155.30 L523.97,158.32 L524.53,159.62 L525.10,161.70 L525.63,156.70 L526.17,150.97 L526.70,145.60 L527.23,147.62 L527.77,148.69 L528.30,150.40 L528.83,144.99 L529.37,142.03 L529.90,135.90 L530.45,112.84 L531.00,87.20 L531.50,94.48 L532.00,100.00 L532.55,111.24 L533.10,121.40 L533.67,123.59 L534.23,126.03 L534.80,129.40 L535.35,135.30 L535.90,142.30 L536.43,143.88 L536.97,148.39 L537.50,150.40 L538.15,154.19 L538.80,158.50 L539.45,161.00 L540.10,161.70 L540.63,157.10 L541.17,154.29 L541.70,148.80 L542.23,145.40 L542.77,138.90 L543.30,135.90 L543.83,138.38 L544.37,143.43 L544.90,145.60 L545.47,146.06 L546.03,147.92 L546.60,147.20 L547.13,143.70 L547.67,139.62 L548.20,137.50 L548.73,138.90 L549.27,140.36 L549.80,140.70 L550.33,138.50 L550.87,136.43 L551.40,135.90 L551.95,134.61 L552.50,134.20 L553.07,138.11 L553.63,140.27 L554.20,142.30 L554.73,139.71 L555.27,138.44 L555.80,137.50 L556.33,135.36 L556.87,134.16 L557.40,134.20 L557.93,136.61 L558.47,136.63 L559.00,139.10 L559.53,137.62 L560.07,135.70 L560.60,134.20 L561.10,147.80 L561.60,163.00 L562.13,157.14 L562.67,149.11 L563.20,143.60 L563.70,139.77 L564.20,134.20 L564.70,131.00 L565.23,129.19 L565.77,127.05 L566.30,126.20 L566.83,123.43 L567.37,123.09 L567.90,119.70 L568.50,120.92 L569.10,120.06 L569.70,121.00" fill="none" stroke="#77AC30" stroke-width="1.1" stroke-linejoin="round"/>
<path d="M569.70,118.60 L570.19,115.47 L570.69,112.33 L571.18,109.20 L571.68,108.71 L572.17,109.04 L572.67,109.37 L573.16,109.60 L573.66,109.75 L574.15,109.90 L574.65,109.90 L575.14,109.57 L575.64,109.24 L576.13,108.91 L576.62,109.51 L577.12,110.28 L577.61,111.04 L578.11,111.96 L578.60,112.96 L579.10,113.84 L579.59,114.42 L580.09,114.56 L580.58,114.69 L581.08,114.82 L581.57,114.93 L582.06,115.05 L582.56,115.16 L583.05,115.51 L583.55,116.06 L584.04,117.08 L584.54,117.91 L585.03,118.66 L585.53,118.40 L586.02,117.57 L586.52,115.43 L587.01,113.36 L587.51,111.33 L588.00,109.44 L588.00,124.86 L587.51,127.39 L587.01,129.95 L586.52,132.66 L586.02,135.63 L585.53,138.27 L585.03,140.17 L584.54,138.05 L584.04,135.89 L583.55,133.70 L583.05,133.32 L582.56,133.73 L582.06,134.20 L581.57,134.66 L581.08,135.13 L580.58,134.75 L580.09,134.23 L579.59,133.70 L579.10,133.06 L578.60,132.34 L578.11,131.09 L577.61,129.86 L577.12,128.66 L576.62,127.47 L576.13,126.50 L575.64,126.96 L575.14,127.41 L574.65,127.87 L574.15,128.24 L573.66,128.57 L573.16,128.90 L572.67,128.25 L572.17,126.47 L571.68,124.70 L571.18,123.13 L570.69,122.22 L570.19,121.31 L569.70,120.40Z" fill="#77AC30" fill-opacity="0.2" stroke="none"/>
<path d="M569.70,121.00 L569.70,118.05 L570.42,123.45 L571.54,105.72 L572.60,127.61 L573.79,106.89 L575.01,121.91 L575.77,103.98 L576.49,122.18 L577.58,107.82 L578.45,138.08 L579.60,108.79 L580.56,141.34 L581.43,111.11 L582.32,137.33 L583.53,112.34 L584.48,136.60 L585.39,114.58 L586.22,137.94 L587.41,106.90" fill="none" stroke="#77AC30" stroke-width="0.8" stroke-linejoin="round"/>
<path d="M587.41,106.90 L588.00,104.30 L588.60,120.00 L589.10,125.90 L589.70,110.00 L590.30,111.20 L590.90,113.58 L591.50,116.20 L591.80,102.00 L592.20,106.16 L592.60,110.00 L593.20,99.70 L593.70,104.95 L594.20,108.00 L594.60,104.41 L595.00,101.00 L595.70,106.32 L596.40,111.60 L596.95,108.03 L597.50,104.00 L598.00,101.43 L598.50,100.50 L599.00,104.28 L599.50,108.00 L599.90,105.84 L600.30,103.00 L600.75,108.76 L601.20,113.00 L601.75,107.44 L602.30,104.00 L602.80,100.39 L603.30,97.80 L603.75,103.64 L604.20,111.60 L604.80,113.11 L605.40,113.00 L605.85,109.00 L606.30,104.00 L606.90,99.01 L607.50,96.40 L607.85,100.45 L608.20,102.00 L608.80,99.20 L609.20,100.66 L609.60,99.70 L610.05,103.55 L610.50,106.60 L611.10,109.20 L611.70,111.20 L612.25,112.21 L612.80,115.00 L613.30,118.00 L613.92,118.36 L614.55,121.32 L615.17,121.73 L615.80,124.50 L616.40,126.44 L617.00,130.00 L617.60,132.13 L618.20,135.60 L618.73,135.44 L619.27,137.64 L619.80,138.80" fill="none" stroke="#77AC30" stroke-width="1.1" stroke-linejoin="round"/>
<path d="M61.5,20.3V373.3H676.3" fill="none" stroke="#262626" stroke-width="1"/><path d="M61.5,373.30h6.2M61.50,373.3v-6.2M61.5,329.18h6.2M138.35,373.3v-6.2M61.5,285.05h6.2M215.20,373.3v-6.2M61.5,240.93h6.2M292.05,373.3v-6.2M61.5,196.80h6.2M368.90,373.3v-6.2M61.5,152.68h6.2M445.75,373.3v-6.2M61.5,108.55h6.2M522.60,373.3v-6.2M61.5,64.43h6.2M599.45,373.3v-6.2M61.5,20.30h6.2M676.30,373.3v-6.2" fill="none" stroke="#262626" stroke-width="1"/>
<g font-size="13.3" fill="#000"><text x="57.2" y="377.60" text-anchor="end">0</text><text x="61.50" y="388.2" text-anchor="middle">0</text><text x="57.2" y="333.48" text-anchor="end">500</text><text x="138.35" y="388.2" text-anchor="middle">10</text><text x="57.2" y="289.35" text-anchor="end">1000</text><text x="215.20" y="388.2" text-anchor="middle">20</text><text x="57.2" y="245.23" text-anchor="end">1500</text><text x="292.05" y="388.2" text-anchor="middle">30</text><text x="57.2" y="201.10" text-anchor="end">2000</text><text x="368.90" y="388.2" text-anchor="middle">40</text><text x="57.2" y="156.98" text-anchor="end">2500</text><text x="445.75" y="388.2" text-anchor="middle">50</text><text x="57.2" y="112.85" text-anchor="end">3000</text><text x="522.60" y="388.2" text-anchor="middle">60</text><text x="57.2" y="68.73" text-anchor="end">3500</text><text x="599.45" y="388.2" text-anchor="middle">70</text><text x="57.2" y="24.60" text-anchor="end">4000</text><text x="676.30" y="388.2" text-anchor="middle">80</text></g>
<text x="370.7" y="407.6" text-anchor="middle" font-size="15">hours</text>
<text transform="translate(13.6,191.7) rotate(-90)" text-anchor="middle" font-size="15">Power/house (watt)</text>
<text x="374" y="14.6" text-anchor="middle" font-size="15.6" font-weight="bold">Low wind</text>
<g>
<rect x="399" y="207.5" width="247.5" height="68.3" fill="#fff" stroke="#262626" stroke-width="1"/>
<g stroke-width="1" fill="none">
<path d="M402,214.8h19.4" stroke="#0072BD"/>
<path d="M402,228.3h19.4" stroke="#D95319"/>
<path d="M402,241.6h19.4" stroke="#EDB120"/>
<path d="M402,254.9h19.4" stroke="#7E2F8E"/>
<path d="M402,268.4h19.4" stroke="#77AC30"/>
</g>
<g font-size="13" letter-spacing="0.38">
<text x="423.3" y="218.6">Total Power With Thermostatic EWH</text>
<text x="423.3" y="231.9">EWH Simulated Power</text>
<text x="423.3" y="245.2">EWH Target Power</text>
<text x="423.3" y="258.5">Total Target Power</text>
<text x="423.3" y="271.8">Total Simulated Power</text>
</g>
</g>
</svg>
</body></html>
